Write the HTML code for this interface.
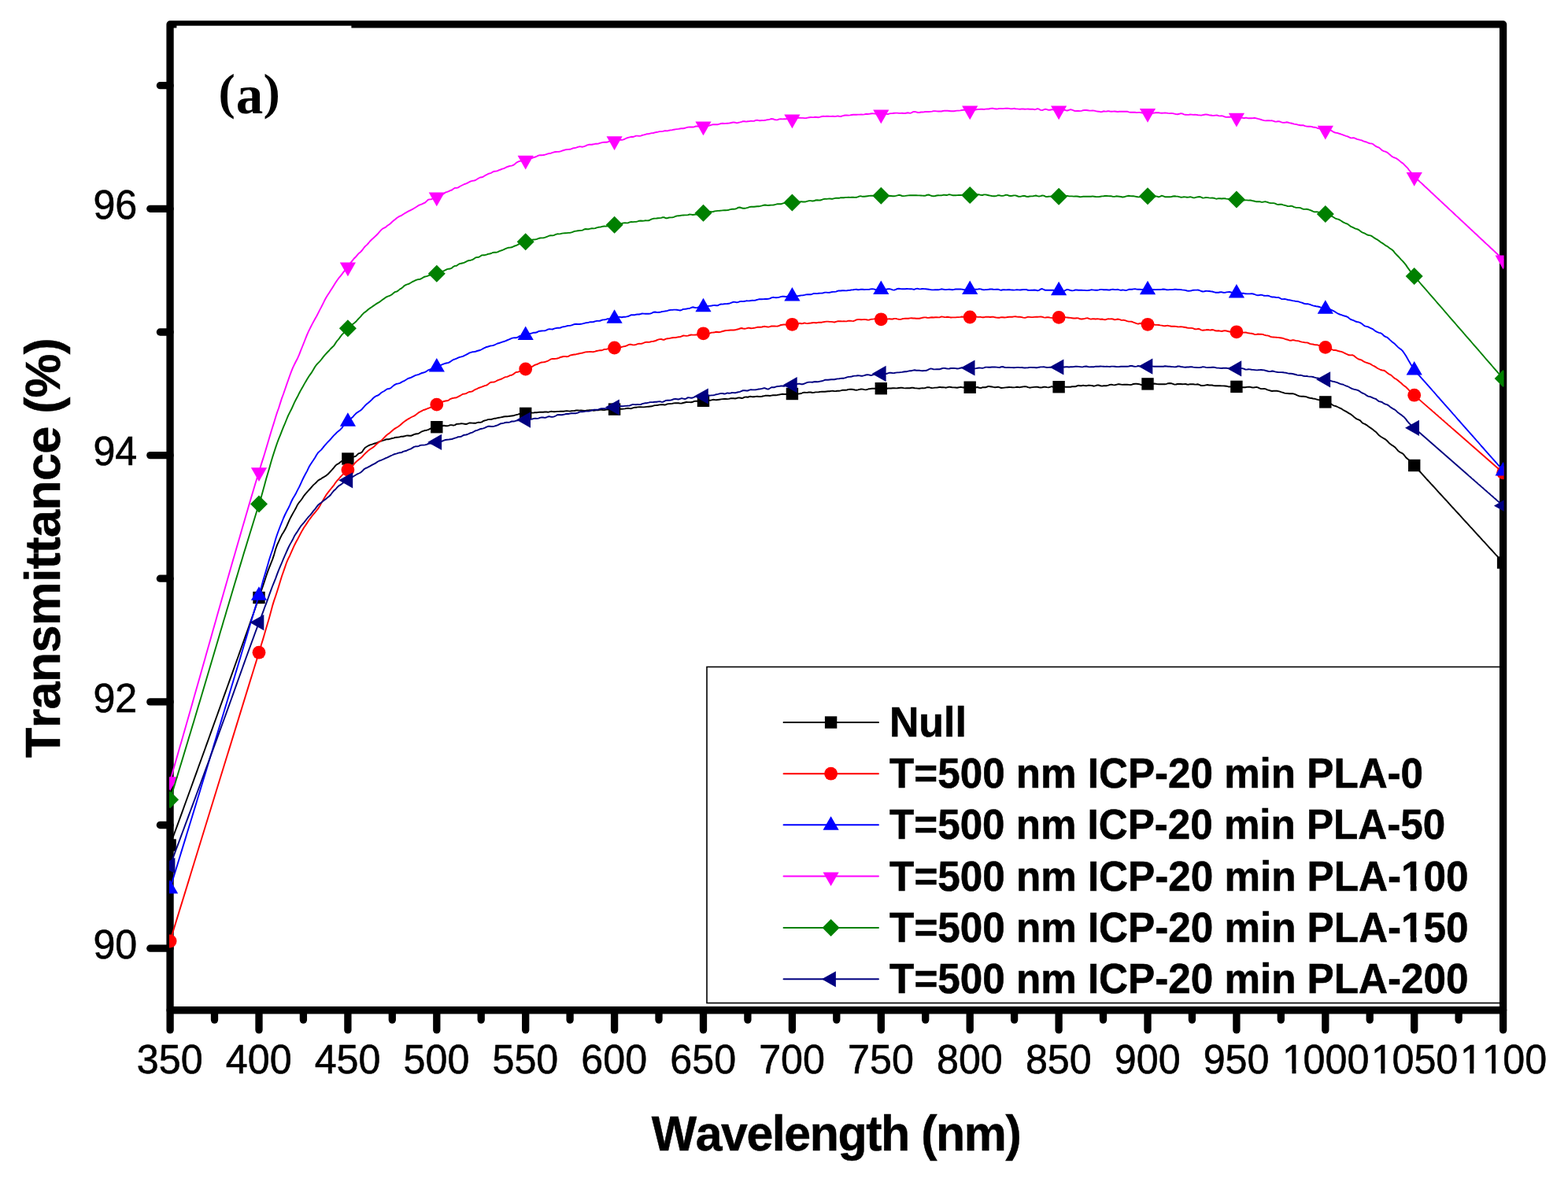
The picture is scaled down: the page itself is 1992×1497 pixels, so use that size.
<!DOCTYPE html>
<html lang="en">
<head>
<meta charset="utf-8">
<title>Transmittance vs Wavelength</title>
<style>
html,body{margin:0;padding:0;background:#ffffff;}
body{width:1992px;height:1497px;overflow:hidden;}
svg{display:block;}
text{font-family:"Liberation Sans",sans-serif;fill:#000;font-kerning:none;}
.tick{font-size:51px;stroke:#000;stroke-width:0.6px;}
.title{font-size:63px;font-weight:bold;stroke:#000;stroke-width:0.5px;}
.leg{font-size:54.5px;font-weight:bold;stroke:#000;stroke-width:0.6px;}
.panel{font-family:"Liberation Serif",serif;font-weight:bold;font-size:64px;}
</style>
</head>
<body>
<svg width="1992" height="1497" viewBox="0 0 1992 1497">
<rect x="0" y="0" width="1992" height="1497" fill="#ffffff"/>
<defs><clipPath id="plot"><rect x="214.9" y="30.95" width="1695.7" height="1252.8"/></clipPath></defs>

<rect x="898" y="847.5" width="1010" height="427.1" fill="#fff" stroke="#000" stroke-width="1.6"/>
<g stroke="#000" stroke-width="9.3" fill="none" stroke-linecap="round" stroke-linejoin="round">
<rect x="216.05" y="30.95" width="1693.55" height="1252.80" stroke-linejoin="round"/>
<line x1="216.1" y1="1283.75" x2="216.1" y2="1308.9"/>
<line x1="272.5" y1="1283.75" x2="272.5" y2="1296.1"/>
<line x1="329.0" y1="1283.75" x2="329.0" y2="1308.9"/>
<line x1="385.4" y1="1283.75" x2="385.4" y2="1296.1"/>
<line x1="441.9" y1="1283.75" x2="441.9" y2="1308.9"/>
<line x1="498.3" y1="1283.75" x2="498.3" y2="1296.1"/>
<line x1="554.8" y1="1283.75" x2="554.8" y2="1308.9"/>
<line x1="611.2" y1="1283.75" x2="611.2" y2="1296.1"/>
<line x1="667.7" y1="1283.75" x2="667.7" y2="1308.9"/>
<line x1="724.1" y1="1283.75" x2="724.1" y2="1296.1"/>
<line x1="780.6" y1="1283.75" x2="780.6" y2="1308.9"/>
<line x1="837.0" y1="1283.75" x2="837.0" y2="1296.1"/>
<line x1="893.5" y1="1283.75" x2="893.5" y2="1308.9"/>
<line x1="949.9" y1="1283.75" x2="949.9" y2="1296.1"/>
<line x1="1006.4" y1="1283.75" x2="1006.4" y2="1308.9"/>
<line x1="1062.8" y1="1283.75" x2="1062.8" y2="1296.1"/>
<line x1="1119.3" y1="1283.75" x2="1119.3" y2="1308.9"/>
<line x1="1175.7" y1="1283.75" x2="1175.7" y2="1296.1"/>
<line x1="1232.2" y1="1283.75" x2="1232.2" y2="1308.9"/>
<line x1="1288.6" y1="1283.75" x2="1288.6" y2="1296.1"/>
<line x1="1345.1" y1="1283.75" x2="1345.1" y2="1308.9"/>
<line x1="1401.5" y1="1283.75" x2="1401.5" y2="1296.1"/>
<line x1="1458.0" y1="1283.75" x2="1458.0" y2="1308.9"/>
<line x1="1514.4" y1="1283.75" x2="1514.4" y2="1296.1"/>
<line x1="1570.9" y1="1283.75" x2="1570.9" y2="1308.9"/>
<line x1="1627.3" y1="1283.75" x2="1627.3" y2="1296.1"/>
<line x1="1683.8" y1="1283.75" x2="1683.8" y2="1308.9"/>
<line x1="1740.2" y1="1283.75" x2="1740.2" y2="1296.1"/>
<line x1="1796.7" y1="1283.75" x2="1796.7" y2="1308.9"/>
<line x1="1853.1" y1="1283.75" x2="1853.1" y2="1296.1"/>
<line x1="1909.6" y1="1283.75" x2="1909.6" y2="1308.9"/>
<line x1="216.05" y1="1205.2" x2="190.8" y2="1205.2"/>
<line x1="216.05" y1="1048.5" x2="203.4" y2="1048.5"/>
<line x1="216.05" y1="891.9" x2="190.8" y2="891.9"/>
<line x1="216.05" y1="735.2" x2="203.4" y2="735.2"/>
<line x1="216.05" y1="578.6" x2="190.8" y2="578.6"/>
<line x1="216.05" y1="422.0" x2="203.4" y2="422.0"/>
<line x1="216.05" y1="265.3" x2="190.8" y2="265.3"/>
<line x1="216.05" y1="108.7" x2="203.4" y2="108.7"/>
</g>
<rect x="224.4" y="32.7" width="222.0" height="6" fill="#fff"/>
<g class="tick">
<text transform="translate(173.85,1364.4) scale(0.985,1)">350</text>
<text transform="translate(286.76,1364.4) scale(0.985,1)">400</text>
<text transform="translate(399.66,1364.4) scale(0.985,1)">450</text>
<text transform="translate(512.56,1364.4) scale(0.985,1)">500</text>
<text transform="translate(625.47,1364.4) scale(0.985,1)">550</text>
<text transform="translate(738.37,1364.4) scale(0.985,1)">600</text>
<text transform="translate(851.27,1364.4) scale(0.985,1)">650</text>
<text transform="translate(964.18,1364.4) scale(0.985,1)">700</text>
<text transform="translate(1077.08,1364.4) scale(0.985,1)">750</text>
<text transform="translate(1189.98,1364.4) scale(0.985,1)">800</text>
<text transform="translate(1302.89,1364.4) scale(0.985,1)">850</text>
<text transform="translate(1415.79,1364.4) scale(0.985,1)">900</text>
<text transform="translate(1528.69,1364.4) scale(0.985,1)">950</text>
<text transform="translate(1627.63,1364.4) scale(0.985,1)"><tspan dx="1.5">1</tspan><tspan dx="-1.5">0</tspan>00</text>
<rect x="1630.43" y="1358.68" width="10.99" height="7.22" fill="#fff" stroke="none"/>
<rect x="1646.49" y="1358.68" width="10.59" height="7.22" fill="#fff" stroke="none"/>
<text transform="translate(1740.54,1364.4) scale(0.985,1)"><tspan dx="1.5">1</tspan><tspan dx="-1.5">0</tspan>50</text>
<rect x="1743.33" y="1358.68" width="10.99" height="7.22" fill="#fff" stroke="none"/>
<rect x="1759.39" y="1358.68" width="10.59" height="7.22" fill="#fff" stroke="none"/>
<text transform="translate(1853.44,1364.4) scale(0.985,1)"><tspan dx="1.5">1</tspan>1<tspan dx="-1.5">0</tspan>0</text>
<rect x="1856.23" y="1358.68" width="10.99" height="7.22" fill="#fff" stroke="none"/>
<rect x="1872.30" y="1358.68" width="10.59" height="7.22" fill="#fff" stroke="none"/>
<rect x="1884.08" y="1358.68" width="10.99" height="7.22" fill="#fff" stroke="none"/>
<rect x="1900.14" y="1358.68" width="10.59" height="7.22" fill="#fff" stroke="none"/>
<text transform="translate(118.44,1217.90) scale(0.985,1)">90</text>
<text transform="translate(118.44,904.60) scale(0.985,1)">92</text>
<text transform="translate(118.44,591.30) scale(0.985,1)">94</text>
<text transform="translate(118.44,278.00) scale(0.985,1)">96</text>
</g>
<text class="title" style="letter-spacing:-1.455px" transform="translate(827.69,1462.4) scale(0.965,1)">Wavelength (nm)</text>
<text class="title" style="letter-spacing:-0.785px" transform="translate(76.2,962.91) rotate(-90)">Transmittance (%)</text>
<text class="panel"><tspan x="277.5" y="137.5">(</tspan><tspan x="299.8" y="144.3" style="font-size:69px">a</tspan><tspan x="334.6" y="137.5">)</tspan></text>
<g clip-path="url(#plot)">
<path d="M216.1,1074.0 L218.1,1068.5 L220.1,1063.0 L222.1,1057.5 L224.1,1052.1 L226.1,1046.6 L228.1,1041.1 L230.1,1035.6 L232.1,1030.1 L234.1,1024.5 L236.1,1019.0 L238.1,1013.5 L240.1,1008.0 L242.1,1002.5 L244.1,997.0 L246.1,991.4 L248.1,985.9 L250.1,980.4 L252.1,974.8 L254.1,969.3 L256.1,963.8 L258.1,958.2 L260.1,952.7 L262.1,947.1 L264.1,941.6 L266.1,936.0 L268.1,930.4 L270.1,924.9 L272.1,919.3 L274.1,913.7 L276.1,908.2 L278.1,902.6 L280.1,897.0 L282.1,891.5 L284.1,885.9 L286.1,880.4 L288.1,874.8 L290.1,869.2 L292.1,863.6 L294.1,858.1 L296.1,852.5 L298.1,846.9 L300.1,841.3 L302.1,835.7 L304.1,830.1 L306.1,824.5 L308.1,818.9 L310.1,813.2 L312.1,807.6 L314.1,802.0 L316.1,796.3 L318.1,790.6 L320.1,784.9 L322.1,779.3 L324.1,773.5 L326.1,767.8 L328.1,762.1 L329.0,759.5 L330.1,755.8 L332.1,750.1 L334.1,744.5 L336.1,738.5 L338.1,732.2 L340.1,726.4 L342.1,721.2 L344.1,716.1 L346.1,711.1 L348.1,705.1 L350.1,698.0 L352.1,692.4 L354.1,688.1 L356.1,683.6 L358.1,679.6 L360.1,676.4 L362.1,673.0 L364.1,669.0 L366.1,664.4 L368.1,659.9 L370.1,656.0 L372.1,652.4 L374.1,648.9 L376.1,645.2 L378.1,641.2 L380.1,638.3 L382.1,636.0 L384.1,633.2 L386.1,630.1 L388.1,627.6 L390.1,625.4 L392.1,623.2 L394.1,621.0 L396.1,618.7 L398.1,616.4 L400.1,614.6 L402.1,612.7 L404.1,610.6 L406.1,609.4 L408.1,608.3 L410.1,606.9 L412.1,605.8 L414.1,604.6 L416.1,603.1 L418.1,601.0 L420.1,598.8 L422.1,596.7 L424.1,594.3 L426.1,591.8 L428.1,590.1 L430.1,589.2 L432.1,587.6 L434.1,586.1 L436.1,585.2 L438.1,584.6 L440.1,584.0 L441.9,583.2 L442.1,582.8 L444.1,582.0 L446.1,581.3 L448.1,580.6 L450.1,580.4 L452.1,579.7 L454.1,577.6 L456.1,576.1 L458.1,575.6 L460.1,574.2 L462.1,571.1 L464.1,568.7 L466.1,567.5 L468.1,566.3 L470.1,565.3 L472.1,564.8 L474.1,564.2 L476.1,563.5 L478.1,562.9 L480.1,562.1 L482.1,561.2 L484.1,560.5 L486.1,559.9 L488.1,559.3 L490.1,558.5 L492.1,558.1 L494.1,558.2 L496.1,557.6 L498.1,557.0 L500.1,556.6 L502.1,556.0 L504.1,555.7 L506.1,555.6 L508.1,555.2 L510.1,554.7 L512.0,554.7 L514.0,554.3 L516.0,553.6 L518.0,553.5 L520.0,553.8 L522.0,553.8 L524.0,553.0 L526.0,552.2 L528.0,551.5 L530.0,551.3 L532.0,550.8 L534.0,549.5 L536.0,548.3 L538.0,547.6 L540.0,547.0 L542.0,546.7 L544.0,546.2 L546.0,545.1 L548.0,544.0 L550.0,543.5 L552.0,543.2 L554.0,542.9 L554.8,542.7 L556.0,542.2 L558.0,541.7 L560.0,541.7 L562.0,541.2 L564.0,540.8 L566.0,541.2 L568.0,541.3 L570.0,540.8 L572.0,540.1 L574.0,540.1 L576.0,540.7 L578.0,540.1 L580.0,538.9 L582.0,538.7 L584.0,538.6 L586.0,538.3 L588.0,538.4 L590.0,538.7 L592.0,539.0 L594.0,538.5 L596.0,537.5 L598.0,537.4 L600.0,537.6 L602.0,537.8 L604.0,537.8 L606.0,537.1 L608.0,536.6 L610.0,536.9 L612.0,536.4 L614.0,535.0 L616.0,534.3 L618.0,533.8 L620.0,533.1 L622.0,533.0 L624.0,533.0 L626.0,532.3 L628.0,531.8 L630.0,531.7 L632.0,531.1 L634.0,530.7 L636.0,530.4 L638.0,530.0 L640.0,529.5 L642.0,529.3 L644.0,529.2 L646.0,529.0 L648.0,528.7 L650.0,528.5 L652.0,528.3 L654.0,527.7 L656.0,527.1 L658.0,526.6 L660.0,526.0 L662.0,525.7 L664.0,525.6 L666.0,525.1 L667.7,525.0 L668.0,525.4 L670.0,525.3 L672.0,524.6 L674.0,524.2 L676.0,524.6 L678.0,524.5 L680.0,524.1 L682.0,524.2 L684.0,523.9 L686.0,523.6 L688.0,523.8 L690.0,523.8 L692.0,523.5 L694.0,523.4 L696.0,523.8 L698.0,523.3 L700.0,522.8 L702.0,523.1 L704.0,523.2 L706.0,523.1 L708.0,522.9 L710.0,522.9 L712.0,522.8 L714.0,522.7 L716.0,522.7 L718.0,522.4 L720.0,522.2 L722.0,522.4 L724.0,522.6 L726.0,522.2 L728.0,522.1 L730.0,522.0 L732.0,521.5 L734.0,521.4 L736.0,521.6 L738.0,521.5 L740.0,521.7 L742.0,522.0 L744.0,521.9 L746.0,521.4 L748.0,521.3 L750.0,521.1 L752.0,521.2 L754.0,521.9 L756.0,521.5 L758.0,521.0 L760.0,521.3 L762.0,520.9 L764.0,520.5 L766.0,521.0 L768.0,521.1 L770.0,520.6 L772.0,520.5 L774.0,520.4 L776.0,520.2 L778.0,520.3 L780.0,520.2 L780.6,519.7 L782.0,519.4 L784.0,519.4 L786.0,519.6 L788.0,519.8 L790.0,519.8 L792.0,519.6 L794.0,519.4 L796.0,519.0 L798.0,518.7 L800.0,519.1 L802.0,519.2 L804.0,518.4 L806.0,517.8 L808.0,517.7 L810.0,517.4 L812.0,517.3 L814.0,517.2 L816.0,517.4 L818.0,517.4 L820.0,517.1 L822.0,516.9 L824.0,516.7 L826.0,516.5 L828.0,516.3 L830.0,515.6 L832.0,515.1 L834.0,515.0 L836.0,514.8 L838.0,514.4 L840.0,514.2 L842.0,514.1 L844.0,514.5 L846.0,514.2 L848.0,513.4 L850.0,513.1 L852.0,513.1 L854.0,512.9 L856.0,512.4 L858.0,512.2 L860.0,512.2 L862.0,512.3 L864.0,512.6 L866.0,512.5 L868.0,512.0 L870.0,511.5 L872.0,511.0 L874.0,511.1 L876.0,511.1 L878.0,511.2 L880.0,510.8 L882.0,509.9 L884.0,509.6 L886.0,509.7 L888.0,509.6 L890.0,509.2 L892.0,509.1 L893.5,509.4 L894.0,509.5 L896.0,509.1 L898.0,508.5 L900.0,508.6 L902.0,508.8 L904.0,508.3 L906.0,507.8 L908.0,508.1 L910.0,508.3 L912.0,508.0 L914.0,507.7 L916.0,507.4 L918.0,507.1 L920.0,507.0 L922.0,506.9 L924.0,507.1 L926.0,506.9 L928.0,506.3 L930.0,506.1 L932.0,506.3 L934.0,506.5 L936.0,506.0 L938.0,505.4 L940.0,505.5 L942.0,506.0 L944.0,505.7 L946.0,504.6 L948.0,504.5 L950.0,504.8 L952.0,504.0 L954.0,503.8 L956.0,504.3 L958.0,504.3 L960.0,503.9 L962.0,503.8 L964.0,504.0 L966.0,504.0 L968.0,503.7 L970.0,503.3 L972.0,502.8 L974.0,502.6 L976.0,502.8 L978.0,503.0 L980.0,502.6 L982.0,502.2 L984.0,502.3 L986.0,502.3 L988.0,501.8 L990.0,501.5 L992.0,501.1 L994.0,500.8 L996.0,501.0 L998.0,501.0 L1000.0,500.8 L1002.0,500.7 L1004.0,500.2 L1006.0,500.0 L1006.4,500.6 L1008.0,500.7 L1010.0,500.1 L1012.0,500.2 L1014.0,500.5 L1016.0,500.3 L1018.0,500.0 L1020.0,499.0 L1022.0,498.6 L1024.0,498.9 L1026.0,498.8 L1028.0,498.4 L1030.0,498.5 L1032.0,499.0 L1034.0,498.9 L1036.0,498.4 L1038.0,498.4 L1040.0,498.2 L1042.0,497.9 L1044.0,497.7 L1046.0,497.7 L1048.0,497.7 L1050.0,497.5 L1052.0,497.3 L1054.0,497.2 L1056.0,496.9 L1058.0,496.8 L1060.0,497.1 L1062.0,497.0 L1064.0,496.8 L1066.0,496.8 L1068.0,496.4 L1070.0,495.8 L1072.0,495.7 L1074.0,495.8 L1076.0,495.5 L1078.0,494.9 L1080.0,494.7 L1082.0,494.7 L1084.0,495.0 L1086.0,495.5 L1088.0,495.7 L1090.0,495.4 L1092.0,494.9 L1094.0,494.5 L1096.0,494.6 L1098.0,495.1 L1100.0,495.4 L1102.0,494.9 L1104.0,494.2 L1106.0,494.0 L1108.0,493.7 L1110.0,493.6 L1112.0,493.7 L1114.0,494.2 L1116.0,494.5 L1118.0,494.3 L1119.3,494.5 L1120.0,494.6 L1122.0,494.3 L1124.0,494.3 L1126.0,494.0 L1128.0,493.5 L1130.0,493.5 L1132.0,493.5 L1134.0,493.3 L1136.0,493.3 L1138.0,493.4 L1140.0,493.3 L1142.0,493.0 L1144.0,492.8 L1146.0,492.7 L1148.0,493.1 L1150.0,493.4 L1152.0,493.3 L1154.0,493.3 L1156.0,493.2 L1158.0,492.8 L1160.0,492.8 L1162.0,493.2 L1164.0,493.4 L1166.0,493.6 L1168.0,493.8 L1170.0,493.4 L1172.0,493.3 L1174.0,493.4 L1176.0,492.8 L1178.0,492.2 L1180.0,492.2 L1182.0,492.7 L1184.0,493.1 L1186.0,492.9 L1188.0,492.6 L1190.0,492.6 L1192.0,492.3 L1194.0,491.9 L1196.0,492.2 L1198.0,492.3 L1200.0,492.4 L1202.0,492.7 L1204.0,492.1 L1206.0,491.6 L1208.0,492.0 L1210.0,492.4 L1212.0,492.4 L1214.0,492.5 L1216.0,492.7 L1218.0,492.3 L1220.0,491.8 L1222.0,492.1 L1224.0,492.5 L1226.0,491.9 L1228.0,491.7 L1230.0,492.2 L1232.0,492.5 L1232.2,492.6 L1234.0,492.3 L1236.0,492.1 L1238.0,492.4 L1240.0,492.2 L1242.0,492.0 L1244.0,492.8 L1246.0,493.1 L1248.0,492.3 L1250.0,492.2 L1252.0,492.3 L1254.0,491.5 L1256.0,490.9 L1258.0,491.2 L1260.0,491.5 L1262.0,491.9 L1264.0,492.2 L1266.0,492.0 L1268.0,491.7 L1270.0,492.3 L1272.0,493.0 L1274.0,492.9 L1276.0,492.6 L1278.0,492.4 L1280.0,492.2 L1282.0,492.0 L1284.0,492.1 L1286.0,492.3 L1288.0,492.4 L1290.0,492.1 L1292.0,491.7 L1294.0,492.0 L1296.0,492.2 L1298.0,491.7 L1300.0,491.4 L1302.0,491.3 L1304.0,491.4 L1306.0,492.2 L1308.0,492.7 L1310.0,492.4 L1312.0,492.1 L1314.0,491.9 L1316.0,491.8 L1318.0,491.8 L1320.0,492.2 L1322.0,492.5 L1324.0,492.2 L1326.0,491.8 L1328.0,491.7 L1330.0,492.1 L1332.0,492.4 L1334.0,491.8 L1336.0,491.2 L1338.0,491.9 L1340.0,492.6 L1342.0,492.4 L1344.0,492.1 L1345.1,491.5 L1346.0,490.7 L1348.0,490.5 L1350.0,490.9 L1352.0,491.4 L1354.0,491.8 L1356.0,491.8 L1358.0,491.7 L1360.0,491.7 L1362.0,491.3 L1364.0,491.2 L1366.0,491.3 L1368.0,490.5 L1370.0,489.8 L1372.0,490.2 L1374.0,490.3 L1376.0,489.7 L1378.0,490.1 L1380.0,490.3 L1382.0,489.8 L1384.0,489.7 L1386.0,489.9 L1388.0,490.3 L1390.0,490.7 L1392.0,490.2 L1394.0,489.4 L1396.0,489.5 L1398.0,490.3 L1400.0,490.6 L1402.0,490.2 L1404.0,490.1 L1406.0,490.2 L1408.0,489.6 L1410.0,488.9 L1412.0,488.6 L1414.0,489.1 L1416.0,489.4 L1418.0,488.8 L1420.0,488.3 L1422.0,488.3 L1424.0,488.6 L1426.0,488.9 L1428.0,488.7 L1430.0,488.8 L1432.0,488.8 L1434.0,488.9 L1436.0,489.1 L1438.0,488.7 L1440.0,488.0 L1442.0,487.7 L1444.0,487.7 L1446.0,488.0 L1448.0,488.4 L1450.0,489.2 L1452.0,489.0 L1454.0,488.1 L1456.0,488.0 L1458.0,488.1 L1458.0,487.5 L1460.0,487.6 L1462.0,488.0 L1464.0,487.7 L1466.0,487.5 L1468.0,487.8 L1470.0,488.1 L1472.0,488.2 L1474.0,488.3 L1476.0,488.3 L1478.0,488.3 L1480.0,488.3 L1482.0,487.8 L1484.0,487.2 L1486.0,487.0 L1488.0,487.2 L1490.0,487.9 L1492.0,488.6 L1494.0,488.5 L1496.0,488.0 L1498.0,487.9 L1500.0,488.0 L1502.0,488.2 L1504.0,488.1 L1506.0,488.0 L1508.0,488.5 L1510.0,488.7 L1512.0,488.2 L1514.0,488.1 L1516.0,488.2 L1518.0,488.6 L1520.0,488.5 L1522.0,488.3 L1524.0,489.2 L1526.0,490.0 L1528.0,490.0 L1530.0,489.9 L1532.0,489.4 L1534.0,489.0 L1536.0,489.5 L1538.0,489.5 L1540.0,489.5 L1542.0,490.1 L1544.0,490.2 L1546.0,490.2 L1548.0,490.3 L1550.0,490.3 L1552.0,490.4 L1554.0,490.4 L1556.0,490.5 L1558.0,490.7 L1560.0,491.2 L1562.0,491.5 L1564.0,491.4 L1566.0,491.0 L1568.0,491.1 L1570.0,491.1 L1570.9,490.4 L1572.0,490.8 L1574.0,491.8 L1576.0,492.2 L1578.0,492.2 L1580.0,492.1 L1582.0,492.2 L1584.0,491.9 L1586.0,491.6 L1588.0,491.7 L1590.0,492.3 L1592.0,492.6 L1594.0,492.3 L1596.0,491.8 L1598.0,492.3 L1600.0,493.4 L1602.0,494.1 L1604.0,494.1 L1606.0,493.9 L1608.0,494.4 L1610.0,495.3 L1612.0,495.8 L1614.0,496.5 L1616.0,497.0 L1618.0,496.7 L1620.0,496.6 L1622.0,496.8 L1624.0,497.1 L1626.0,497.7 L1628.0,498.3 L1630.0,498.8 L1632.0,499.6 L1634.0,499.9 L1636.0,500.0 L1638.0,500.2 L1640.0,500.1 L1642.0,500.2 L1644.0,500.7 L1646.0,501.4 L1648.0,502.4 L1650.0,503.2 L1652.0,503.6 L1654.0,503.7 L1656.0,503.8 L1658.0,504.0 L1660.0,504.4 L1662.0,505.3 L1664.0,505.7 L1666.0,506.0 L1668.0,506.5 L1670.0,506.7 L1672.0,507.3 L1674.0,507.9 L1676.0,508.3 L1678.0,509.0 L1680.0,510.1 L1682.0,511.0 L1683.8,511.4 L1684.0,511.0 L1686.0,511.1 L1688.0,511.7 L1690.0,512.6 L1692.0,514.0 L1694.0,515.3 L1696.0,515.9 L1698.0,516.5 L1700.0,517.5 L1702.0,518.5 L1704.0,519.3 L1706.0,520.7 L1708.0,521.9 L1710.0,522.9 L1712.0,524.1 L1714.0,525.4 L1716.0,526.4 L1718.0,527.9 L1720.0,529.7 L1722.0,531.4 L1724.0,532.7 L1726.0,533.3 L1728.0,534.4 L1730.0,536.7 L1732.0,538.2 L1734.0,538.9 L1736.0,540.1 L1738.0,541.6 L1740.0,543.0 L1742.0,544.4 L1744.0,545.8 L1746.0,547.4 L1748.0,548.9 L1750.0,551.1 L1752.0,553.3 L1754.0,554.7 L1756.0,556.0 L1758.0,557.2 L1760.0,558.3 L1762.0,560.0 L1764.0,562.2 L1766.0,564.1 L1768.0,565.6 L1770.0,566.7 L1772.0,568.2 L1774.0,570.4 L1776.0,572.7 L1778.0,574.4 L1780.0,575.3 L1782.0,576.4 L1784.0,578.5 L1786.0,581.2 L1788.0,583.0 L1790.0,584.6 L1792.0,586.3 L1794.0,587.6 L1796.0,589.9 L1796.7,591.5 L1798.0,593.0 L1800.0,595.2 L1802.0,597.4 L1804.0,599.5 L1806.0,601.7 L1808.0,603.9 L1810.0,606.1 L1812.0,608.3 L1814.0,610.5 L1816.0,612.7 L1818.0,614.9 L1820.0,617.0 L1822.0,619.2 L1824.0,621.4 L1826.0,623.6 L1828.0,625.8 L1830.0,628.0 L1832.0,630.2 L1834.0,632.4 L1836.0,634.5 L1838.0,636.7 L1840.0,638.9 L1842.0,641.1 L1844.0,643.3 L1846.0,645.5 L1848.0,647.7 L1850.0,649.9 L1852.0,652.0 L1854.0,654.2 L1856.0,656.4 L1858.0,658.6 L1860.0,660.8 L1862.0,663.0 L1864.0,665.2 L1866.0,667.4 L1868.0,669.6 L1870.0,671.7 L1872.0,673.9 L1874.0,676.1 L1876.0,678.3 L1878.0,680.5 L1880.0,682.7 L1882.0,684.9 L1884.0,687.1 L1886.0,689.2 L1888.0,691.4 L1890.0,693.6 L1892.0,695.8 L1894.0,698.0 L1896.0,700.2 L1898.0,702.4 L1900.0,704.6 L1902.0,706.7 L1904.0,708.9 L1906.0,711.1 L1908.0,713.3 L1909.6,715.0" fill="none" stroke="#000000" stroke-width="1.9" stroke-linejoin="round" stroke-linecap="round"/>
<rect x="208.4" y="1066.3" width="15.4" height="15.4" fill="#000000"/>
<rect x="321.3" y="751.8" width="15.4" height="15.4" fill="#000000"/>
<rect x="434.2" y="575.3" width="15.4" height="15.4" fill="#000000"/>
<rect x="547.1" y="535.0" width="15.4" height="15.4" fill="#000000"/>
<rect x="660.0" y="517.7" width="15.4" height="15.4" fill="#000000"/>
<rect x="772.9" y="512.4" width="15.4" height="15.4" fill="#000000"/>
<rect x="885.8" y="501.6" width="15.4" height="15.4" fill="#000000"/>
<rect x="998.7" y="492.8" width="15.4" height="15.4" fill="#000000"/>
<rect x="1111.6" y="486.0" width="15.4" height="15.4" fill="#000000"/>
<rect x="1224.5" y="484.5" width="15.4" height="15.4" fill="#000000"/>
<rect x="1337.4" y="484.0" width="15.4" height="15.4" fill="#000000"/>
<rect x="1450.3" y="480.2" width="15.4" height="15.4" fill="#000000"/>
<rect x="1563.2" y="483.7" width="15.4" height="15.4" fill="#000000"/>
<rect x="1676.1" y="503.2" width="15.4" height="15.4" fill="#000000"/>
<rect x="1789.0" y="583.8" width="15.4" height="15.4" fill="#000000"/>
<rect x="1901.9" y="707.3" width="15.4" height="15.4" fill="#000000"/>
<path d="M216.1,1196.0 L218.1,1189.5 L220.1,1183.0 L222.1,1176.5 L224.1,1169.9 L226.1,1163.4 L228.1,1156.9 L230.1,1150.4 L232.1,1143.9 L234.1,1137.4 L236.1,1130.9 L238.1,1124.4 L240.1,1117.9 L242.1,1111.3 L244.1,1104.8 L246.1,1098.3 L248.1,1091.8 L250.1,1085.3 L252.1,1078.8 L254.1,1072.3 L256.1,1065.8 L258.1,1059.3 L260.1,1052.8 L262.1,1046.3 L264.1,1039.8 L266.1,1033.3 L268.1,1026.8 L270.1,1020.3 L272.1,1013.8 L274.1,1007.3 L276.1,1000.8 L278.1,994.3 L280.1,987.8 L282.1,981.3 L284.1,974.8 L286.1,968.3 L288.1,961.8 L290.1,955.4 L292.1,948.9 L294.1,942.4 L296.1,935.9 L298.1,929.4 L300.1,922.9 L302.1,916.4 L304.1,909.9 L306.1,903.4 L308.1,896.9 L310.1,890.4 L312.1,883.9 L314.1,877.4 L316.1,870.9 L318.1,864.4 L320.1,858.0 L322.1,851.5 L324.1,845.0 L326.1,838.6 L328.1,832.1 L329.0,829.2 L330.1,825.5 L332.1,818.8 L334.1,812.4 L336.1,805.6 L338.1,798.6 L340.1,791.8 L342.1,784.9 L344.1,777.4 L346.1,769.9 L348.1,763.4 L350.1,757.6 L352.1,751.5 L354.1,745.1 L356.1,738.4 L358.1,732.0 L360.1,726.4 L362.1,720.6 L364.1,714.8 L366.1,710.1 L368.1,706.2 L370.1,701.7 L372.1,697.1 L374.1,692.7 L376.1,688.8 L378.1,685.3 L380.1,681.4 L382.1,677.5 L384.1,673.9 L386.1,670.5 L388.1,667.6 L390.1,664.6 L392.1,661.5 L394.1,658.9 L396.1,656.2 L398.1,653.7 L400.1,651.3 L402.1,648.9 L404.1,646.4 L406.1,643.2 L408.1,639.6 L410.1,636.1 L412.1,632.7 L414.1,629.4 L416.1,626.6 L418.1,624.1 L420.1,621.5 L422.1,619.1 L424.1,616.7 L426.1,613.6 L428.1,611.0 L430.1,608.9 L432.1,606.5 L434.1,604.4 L436.1,602.4 L438.1,600.2 L440.1,598.3 L441.9,597.0 L442.1,596.8 L444.1,594.9 L446.1,593.7 L448.1,591.8 L450.1,589.3 L452.1,587.2 L454.1,585.4 L456.1,583.8 L458.1,582.3 L460.1,580.4 L462.1,578.1 L464.1,576.1 L466.1,574.3 L468.1,572.4 L470.1,570.9 L472.1,569.7 L474.1,568.4 L476.1,566.7 L478.1,564.7 L480.1,562.9 L482.1,561.5 L484.1,560.2 L486.1,558.2 L488.1,556.1 L490.1,554.0 L492.1,552.3 L494.1,550.9 L496.1,549.3 L498.1,547.5 L500.1,545.8 L502.1,544.4 L504.1,543.2 L506.1,542.0 L508.1,540.5 L510.1,538.7 L512.0,537.0 L514.0,535.5 L516.0,534.1 L518.0,532.8 L520.0,531.7 L522.0,530.5 L524.0,529.5 L526.0,528.6 L528.0,527.4 L530.0,525.7 L532.0,524.2 L534.0,523.2 L536.0,522.1 L538.0,521.0 L540.0,520.5 L542.0,519.7 L544.0,518.8 L546.0,518.2 L548.0,517.4 L550.0,516.1 L552.0,515.0 L554.0,514.4 L554.8,514.1 L556.0,513.5 L558.0,513.1 L560.0,512.0 L562.0,510.7 L564.0,510.0 L566.0,509.5 L568.0,509.3 L570.0,508.6 L572.0,507.1 L574.0,506.3 L576.0,505.9 L578.0,505.5 L580.0,505.2 L582.0,504.2 L584.0,503.1 L586.0,502.0 L588.0,500.8 L590.0,500.5 L592.0,500.1 L594.0,499.0 L596.0,498.0 L598.0,497.8 L600.0,497.4 L602.0,496.0 L604.0,494.9 L606.0,494.1 L608.0,493.0 L610.0,492.3 L612.0,491.7 L614.0,490.9 L616.0,490.1 L618.0,489.6 L620.0,488.4 L622.0,486.6 L624.0,485.7 L626.0,485.6 L628.0,485.5 L630.0,484.5 L632.0,483.4 L634.0,482.6 L636.0,482.0 L638.0,481.2 L640.0,480.0 L642.0,479.1 L644.0,478.9 L646.0,478.1 L648.0,477.0 L650.0,476.7 L652.0,475.7 L654.0,474.0 L656.0,472.9 L658.0,472.7 L660.0,472.1 L662.0,470.7 L664.0,469.8 L666.0,469.6 L667.7,468.9 L668.0,469.1 L670.0,469.4 L672.0,468.7 L674.0,467.2 L676.0,465.9 L678.0,464.7 L680.0,463.6 L682.0,463.0 L684.0,462.2 L686.0,461.1 L688.0,460.5 L690.0,460.4 L692.0,460.0 L694.0,459.4 L696.0,458.7 L698.0,457.5 L700.0,456.4 L702.0,455.9 L704.0,456.0 L706.0,455.9 L708.0,455.5 L710.0,454.8 L712.0,454.0 L714.0,453.5 L716.0,453.0 L718.0,452.9 L720.0,453.3 L722.0,452.9 L724.0,451.7 L726.0,451.2 L728.0,450.8 L730.0,450.5 L732.0,450.2 L734.0,449.7 L736.0,449.3 L738.0,448.9 L740.0,448.5 L742.0,447.9 L744.0,447.4 L746.0,447.2 L748.0,447.1 L750.0,447.0 L752.0,447.1 L754.0,447.2 L756.0,446.7 L758.0,446.0 L760.0,445.6 L762.0,445.3 L764.0,445.3 L766.0,444.7 L768.0,443.9 L770.0,443.9 L772.0,443.4 L774.0,442.2 L776.0,441.9 L778.0,441.8 L780.0,441.1 L780.6,441.1 L782.0,441.3 L784.0,441.5 L786.0,441.7 L788.0,441.6 L790.0,440.9 L792.0,440.4 L794.0,440.0 L796.0,439.3 L798.0,438.3 L800.0,437.7 L802.0,437.8 L804.0,438.4 L806.0,438.4 L808.0,437.8 L810.0,437.1 L812.0,436.6 L814.0,436.9 L816.0,436.5 L818.0,435.6 L820.0,434.9 L822.0,434.7 L824.0,434.9 L826.0,434.5 L828.0,433.9 L830.0,433.7 L832.0,433.3 L834.0,432.5 L836.0,431.7 L838.0,431.1 L840.0,431.0 L842.0,431.7 L844.0,431.7 L846.0,430.6 L848.0,430.3 L850.0,430.1 L852.0,429.6 L854.0,429.2 L856.0,429.0 L858.0,429.0 L860.0,428.6 L862.0,428.3 L864.0,428.1 L866.0,427.3 L868.0,426.5 L870.0,426.6 L872.0,426.9 L874.0,426.6 L876.0,426.0 L878.0,425.5 L880.0,425.6 L882.0,425.6 L884.0,425.5 L886.0,425.4 L888.0,424.6 L890.0,423.5 L892.0,423.4 L893.5,423.9 L894.0,424.1 L896.0,423.9 L898.0,423.9 L900.0,423.9 L902.0,423.4 L904.0,422.6 L906.0,422.5 L908.0,422.2 L910.0,421.8 L912.0,422.0 L914.0,422.2 L916.0,421.6 L918.0,421.0 L920.0,420.5 L922.0,420.0 L924.0,419.9 L926.0,419.7 L928.0,419.5 L930.0,419.4 L932.0,419.5 L934.0,419.3 L936.0,418.7 L938.0,418.3 L940.0,417.5 L942.0,417.0 L944.0,417.5 L946.0,417.8 L948.0,417.4 L950.0,416.8 L952.0,416.8 L954.0,417.2 L956.0,417.1 L958.0,416.8 L960.0,416.3 L962.0,415.8 L964.0,415.6 L966.0,415.7 L968.0,415.5 L970.0,415.0 L972.0,414.8 L974.0,415.3 L976.0,415.6 L978.0,415.1 L980.0,414.5 L982.0,414.4 L984.0,414.5 L986.0,414.6 L988.0,414.5 L990.0,413.8 L992.0,413.0 L994.0,412.7 L996.0,412.4 L998.0,412.5 L1000.0,413.1 L1002.0,412.9 L1004.0,412.5 L1006.0,412.8 L1006.4,412.5 L1008.0,412.0 L1010.0,412.0 L1012.0,411.8 L1014.0,411.1 L1016.0,410.8 L1018.0,411.2 L1020.0,411.0 L1022.0,410.4 L1024.0,410.9 L1026.0,411.1 L1028.0,410.7 L1030.0,410.5 L1032.0,410.2 L1034.0,409.9 L1036.0,410.2 L1038.0,410.2 L1040.0,409.7 L1042.0,409.7 L1044.0,409.7 L1046.0,409.2 L1048.0,408.9 L1050.0,408.6 L1052.0,408.6 L1054.0,408.9 L1056.0,408.9 L1058.0,409.1 L1060.0,409.5 L1062.0,408.9 L1064.0,408.3 L1066.0,408.2 L1068.0,408.2 L1070.0,408.4 L1072.0,408.3 L1074.0,408.4 L1076.0,408.2 L1078.0,407.7 L1080.0,407.6 L1082.0,407.9 L1084.0,408.1 L1086.0,407.4 L1088.0,406.4 L1090.0,406.0 L1092.0,406.0 L1094.0,406.2 L1096.0,406.1 L1098.0,405.9 L1100.0,406.1 L1102.0,406.5 L1104.0,406.6 L1106.0,405.9 L1108.0,405.6 L1110.0,405.4 L1112.0,405.1 L1114.0,405.1 L1116.0,405.5 L1118.0,405.9 L1119.3,405.8 L1120.0,405.7 L1122.0,405.9 L1124.0,405.8 L1126.0,405.6 L1128.0,405.4 L1130.0,405.3 L1132.0,405.5 L1134.0,405.5 L1136.0,404.9 L1138.0,404.9 L1140.0,405.4 L1142.0,405.8 L1144.0,405.9 L1146.0,405.3 L1148.0,404.9 L1150.0,404.8 L1152.0,404.8 L1154.0,404.8 L1156.0,404.4 L1158.0,404.3 L1160.0,404.5 L1162.0,404.5 L1164.0,404.7 L1166.0,404.8 L1168.0,404.7 L1170.0,404.3 L1172.0,403.7 L1174.0,403.4 L1176.0,403.4 L1178.0,403.7 L1180.0,403.9 L1182.0,403.5 L1184.0,403.3 L1186.0,403.5 L1188.0,403.3 L1190.0,403.1 L1192.0,403.4 L1194.0,403.2 L1196.0,402.4 L1198.0,402.6 L1200.0,403.1 L1202.0,403.0 L1204.0,402.8 L1206.0,403.1 L1208.0,403.5 L1210.0,403.4 L1212.0,403.4 L1214.0,403.4 L1216.0,403.1 L1218.0,403.1 L1220.0,402.9 L1222.0,402.5 L1224.0,402.7 L1226.0,403.1 L1228.0,402.9 L1230.0,402.5 L1232.0,402.8 L1232.2,403.6 L1234.0,403.6 L1236.0,403.0 L1238.0,402.5 L1240.0,402.4 L1242.0,402.9 L1244.0,402.9 L1246.0,402.8 L1248.0,403.3 L1250.0,403.3 L1252.0,402.7 L1254.0,402.6 L1256.0,402.8 L1258.0,403.0 L1260.0,402.7 L1262.0,402.7 L1264.0,403.3 L1266.0,403.6 L1268.0,403.8 L1270.0,403.7 L1272.0,403.2 L1274.0,403.3 L1276.0,403.5 L1278.0,403.4 L1280.0,403.0 L1282.0,402.8 L1284.0,402.8 L1286.0,402.7 L1288.0,402.4 L1290.0,402.3 L1292.0,402.6 L1294.0,402.7 L1296.0,402.7 L1298.0,403.1 L1300.0,403.6 L1302.0,403.9 L1304.0,403.3 L1306.0,402.7 L1308.0,402.9 L1310.0,403.1 L1312.0,403.1 L1314.0,402.9 L1316.0,402.8 L1318.0,402.8 L1320.0,402.6 L1322.0,402.4 L1324.0,402.7 L1326.0,403.4 L1328.0,403.6 L1330.0,403.3 L1332.0,403.2 L1334.0,403.6 L1336.0,403.9 L1338.0,404.1 L1340.0,403.8 L1342.0,403.7 L1344.0,404.1 L1345.1,404.1 L1346.0,403.5 L1348.0,403.1 L1350.0,402.9 L1352.0,403.0 L1354.0,403.3 L1356.0,403.5 L1358.0,403.7 L1360.0,403.9 L1362.0,404.2 L1364.0,404.5 L1366.0,404.5 L1368.0,404.2 L1370.0,404.4 L1372.0,405.3 L1374.0,405.5 L1376.0,405.2 L1378.0,404.9 L1380.0,404.4 L1382.0,404.3 L1384.0,405.1 L1386.0,405.6 L1388.0,405.1 L1390.0,405.2 L1392.0,405.5 L1394.0,405.1 L1396.0,405.4 L1398.0,405.7 L1400.0,405.5 L1402.0,406.0 L1404.0,406.3 L1406.0,405.6 L1408.0,405.3 L1410.0,405.4 L1412.0,405.2 L1414.0,405.5 L1416.0,406.3 L1418.0,406.0 L1420.0,405.5 L1422.0,405.9 L1424.0,406.7 L1426.0,406.9 L1428.0,406.8 L1430.0,407.4 L1432.0,408.1 L1434.0,408.6 L1436.0,408.6 L1438.0,408.8 L1440.0,409.7 L1442.0,410.4 L1444.0,411.2 L1446.0,411.7 L1448.0,411.0 L1450.0,410.8 L1452.0,411.5 L1454.0,411.8 L1456.0,411.7 L1458.0,412.2 L1458.0,412.6 L1460.0,412.4 L1462.0,412.0 L1464.0,412.2 L1466.0,412.5 L1468.0,412.9 L1470.0,412.9 L1472.0,413.0 L1474.0,413.4 L1476.0,413.6 L1478.0,414.1 L1480.0,414.3 L1482.0,413.9 L1484.0,413.8 L1486.0,414.3 L1488.0,414.7 L1490.0,414.7 L1492.0,414.7 L1494.0,414.9 L1496.0,415.2 L1498.0,415.4 L1500.0,415.2 L1502.0,415.4 L1504.0,415.7 L1506.0,416.0 L1508.0,416.5 L1510.0,416.9 L1512.0,416.9 L1514.0,416.9 L1516.0,417.4 L1518.0,418.3 L1520.0,418.4 L1522.0,417.8 L1524.0,418.2 L1526.0,419.4 L1528.0,419.7 L1530.0,419.5 L1532.0,419.3 L1534.0,419.0 L1536.0,419.3 L1538.0,419.5 L1540.0,419.0 L1542.0,419.4 L1544.0,420.3 L1546.0,420.5 L1548.0,420.2 L1550.0,420.6 L1552.0,421.0 L1554.0,420.5 L1556.0,420.1 L1558.0,420.5 L1560.0,421.0 L1562.0,421.5 L1564.0,421.4 L1566.0,421.5 L1568.0,422.2 L1570.0,422.1 L1570.9,422.0 L1572.0,422.4 L1574.0,422.5 L1576.0,422.6 L1578.0,422.7 L1580.0,422.6 L1582.0,422.4 L1584.0,422.8 L1586.0,423.3 L1588.0,423.6 L1590.0,423.8 L1592.0,424.2 L1594.0,425.1 L1596.0,425.1 L1598.0,424.5 L1600.0,424.7 L1602.0,424.8 L1604.0,424.9 L1606.0,425.7 L1608.0,426.2 L1610.0,426.4 L1612.0,426.9 L1614.0,427.8 L1616.0,428.4 L1618.0,428.5 L1620.0,428.6 L1622.0,428.8 L1624.0,428.9 L1626.0,429.2 L1628.0,429.5 L1630.0,429.9 L1632.0,430.6 L1634.0,431.3 L1636.0,431.7 L1638.0,432.6 L1640.0,432.8 L1642.0,432.1 L1644.0,432.3 L1646.0,432.9 L1648.0,433.1 L1650.0,433.4 L1652.0,434.1 L1654.0,434.6 L1656.0,434.9 L1658.0,435.4 L1660.0,435.4 L1662.0,435.8 L1664.0,436.9 L1666.0,437.3 L1668.0,437.5 L1670.0,438.1 L1672.0,438.2 L1674.0,438.4 L1676.0,439.3 L1678.0,439.6 L1680.0,440.2 L1682.0,441.2 L1683.8,442.1 L1684.0,442.1 L1686.0,442.1 L1688.0,442.1 L1690.0,442.9 L1692.0,444.1 L1694.0,445.0 L1696.0,445.0 L1698.0,445.3 L1700.0,446.0 L1702.0,446.5 L1704.0,446.9 L1706.0,447.7 L1708.0,448.7 L1710.0,449.6 L1712.0,450.5 L1714.0,451.3 L1716.0,451.4 L1718.0,451.2 L1720.0,452.1 L1722.0,453.7 L1724.0,455.2 L1726.0,456.5 L1728.0,457.0 L1730.0,457.7 L1732.0,459.1 L1734.0,460.1 L1736.0,460.8 L1738.0,461.5 L1740.0,462.1 L1742.0,463.2 L1744.0,464.5 L1746.0,465.4 L1748.0,466.6 L1750.0,468.0 L1752.0,469.0 L1754.0,470.0 L1756.0,470.5 L1758.0,470.7 L1760.0,471.8 L1762.0,473.6 L1764.0,475.1 L1766.0,476.1 L1768.0,477.3 L1770.0,479.3 L1772.0,481.0 L1774.0,481.9 L1776.0,483.5 L1778.0,485.3 L1780.0,486.8 L1782.0,488.7 L1784.0,490.4 L1786.0,491.8 L1788.0,493.7 L1790.0,495.8 L1792.0,497.9 L1794.0,500.2 L1796.0,502.2 L1796.7,502.2 L1798.0,503.4 L1800.0,505.1 L1802.0,506.9 L1804.0,508.6 L1806.0,510.4 L1808.0,512.1 L1810.0,513.9 L1812.0,515.6 L1814.0,517.4 L1816.0,519.1 L1818.0,520.8 L1820.0,522.6 L1822.0,524.3 L1824.0,526.1 L1826.0,527.8 L1828.0,529.6 L1830.0,531.3 L1832.0,533.1 L1834.0,534.8 L1836.0,536.6 L1838.0,538.3 L1840.0,540.1 L1842.0,541.8 L1844.0,543.6 L1846.0,545.3 L1848.0,547.0 L1850.0,548.8 L1852.0,550.5 L1854.0,552.3 L1856.0,554.0 L1858.0,555.8 L1860.0,557.5 L1862.0,559.3 L1864.0,561.0 L1866.0,562.8 L1868.0,564.5 L1870.0,566.3 L1872.0,568.0 L1874.0,569.8 L1876.0,571.5 L1878.0,573.2 L1880.0,575.0 L1882.0,576.7 L1884.0,578.5 L1886.0,580.2 L1888.0,582.0 L1890.0,583.7 L1892.0,585.5 L1894.0,587.2 L1896.0,589.0 L1898.0,590.7 L1900.0,592.5 L1902.0,594.2 L1904.0,596.0 L1906.0,597.7 L1908.0,599.4 L1909.6,600.8" fill="none" stroke="#ff0000" stroke-width="1.9" stroke-linejoin="round" stroke-linecap="round"/>
<circle cx="216.1" cy="1196.0" r="8.4" fill="#ff0000"/>
<circle cx="329.0" cy="829.2" r="8.4" fill="#ff0000"/>
<circle cx="441.9" cy="597.1" r="8.4" fill="#ff0000"/>
<circle cx="554.8" cy="514.1" r="8.4" fill="#ff0000"/>
<circle cx="667.7" cy="469.0" r="8.4" fill="#ff0000"/>
<circle cx="780.6" cy="442.0" r="8.4" fill="#ff0000"/>
<circle cx="893.5" cy="423.8" r="8.4" fill="#ff0000"/>
<circle cx="1006.4" cy="412.3" r="8.4" fill="#ff0000"/>
<circle cx="1119.3" cy="405.8" r="8.4" fill="#ff0000"/>
<circle cx="1232.2" cy="403.0" r="8.4" fill="#ff0000"/>
<circle cx="1345.1" cy="403.4" r="8.4" fill="#ff0000"/>
<circle cx="1458.0" cy="412.3" r="8.4" fill="#ff0000"/>
<circle cx="1570.9" cy="421.8" r="8.4" fill="#ff0000"/>
<circle cx="1683.8" cy="441.4" r="8.4" fill="#ff0000"/>
<circle cx="1796.7" cy="502.2" r="8.4" fill="#ff0000"/>
<circle cx="1909.6" cy="600.8" r="8.4" fill="#ff0000"/>
<path d="M216.1,1129.0 L218.1,1122.5 L220.1,1116.0 L222.1,1109.5 L224.1,1103.0 L226.1,1096.5 L228.1,1090.0 L230.1,1083.4 L232.1,1076.9 L234.1,1070.4 L236.1,1063.9 L238.1,1057.3 L240.1,1050.8 L242.1,1044.2 L244.1,1037.7 L246.1,1031.1 L248.1,1024.6 L250.1,1018.0 L252.1,1011.5 L254.1,1004.9 L256.1,998.3 L258.1,991.8 L260.1,985.2 L262.1,978.6 L264.1,972.0 L266.1,965.4 L268.1,958.8 L270.1,952.2 L272.1,945.6 L274.1,939.0 L276.1,932.4 L278.1,925.8 L280.1,919.2 L282.1,912.6 L284.1,906.0 L286.1,899.4 L288.1,892.7 L290.1,886.1 L292.1,879.5 L294.1,872.8 L296.1,866.2 L298.1,859.5 L300.1,852.9 L302.1,846.2 L304.1,839.6 L306.1,832.9 L308.1,826.2 L310.1,819.5 L312.1,812.9 L314.1,806.2 L316.1,799.5 L318.1,792.8 L320.1,786.1 L322.1,779.4 L324.1,772.7 L326.1,766.0 L328.1,759.2 L329.0,756.2 L330.1,752.4 L332.1,745.7 L334.1,738.3 L336.1,731.5 L338.1,724.9 L340.1,718.1 L342.1,711.0 L344.1,704.8 L346.1,699.1 L348.1,692.5 L350.1,685.3 L352.1,679.3 L354.1,673.8 L356.1,668.5 L358.1,663.5 L360.1,658.5 L362.1,654.0 L364.1,650.0 L366.1,646.3 L368.1,642.1 L370.1,637.5 L372.1,633.5 L374.1,630.3 L376.1,626.7 L378.1,622.7 L380.1,618.9 L382.1,614.6 L384.1,610.2 L386.1,606.0 L388.1,602.3 L390.1,598.6 L392.1,594.3 L394.1,590.7 L396.1,587.7 L398.1,584.8 L400.1,581.7 L402.1,578.2 L404.1,575.2 L406.1,573.4 L408.1,571.6 L410.1,569.2 L412.1,566.6 L414.1,564.3 L416.1,562.2 L418.1,560.1 L420.1,558.0 L422.1,555.6 L424.1,553.4 L426.1,551.5 L428.1,549.4 L430.1,547.7 L432.1,546.2 L434.1,544.2 L436.1,541.3 L438.1,538.4 L440.1,536.3 L441.9,535.0 L442.1,534.7 L444.1,532.7 L446.1,531.6 L448.1,530.0 L450.1,527.6 L452.1,525.6 L454.1,524.1 L456.1,522.8 L458.1,521.5 L460.1,519.7 L462.1,517.3 L464.1,515.1 L466.1,513.3 L468.1,511.7 L470.1,510.0 L472.1,508.1 L474.1,506.0 L476.1,504.3 L478.1,503.2 L480.1,502.5 L482.1,501.1 L484.1,499.3 L486.1,498.0 L488.1,497.0 L490.1,495.5 L492.1,494.3 L494.1,494.0 L496.1,493.4 L498.1,491.6 L500.1,489.9 L502.1,488.6 L504.1,487.7 L506.1,487.4 L508.1,486.8 L510.1,485.7 L512.0,484.7 L514.0,483.8 L516.0,482.5 L518.0,481.2 L520.0,480.5 L522.0,479.8 L524.0,478.8 L526.0,477.8 L528.0,476.9 L530.0,476.4 L532.0,475.8 L534.0,474.8 L536.0,474.0 L538.0,473.5 L540.0,472.9 L542.0,471.7 L544.0,470.3 L546.0,469.6 L548.0,468.9 L550.0,468.2 L552.0,467.7 L554.0,467.1 L554.8,466.7 L556.0,466.1 L558.0,465.3 L560.0,464.0 L562.0,463.1 L564.0,462.3 L566.0,461.7 L568.0,461.3 L570.0,460.8 L572.0,459.7 L574.0,458.3 L576.0,457.0 L578.0,456.4 L580.0,455.7 L582.0,454.7 L584.0,453.9 L586.0,453.4 L588.0,452.8 L590.0,451.8 L592.0,450.9 L594.0,449.8 L596.0,448.7 L598.0,447.9 L600.0,447.3 L602.0,447.1 L604.0,446.8 L606.0,446.0 L608.0,445.5 L610.0,445.0 L612.0,444.0 L614.0,442.9 L616.0,441.8 L618.0,441.0 L620.0,440.5 L622.0,439.8 L624.0,439.4 L626.0,439.1 L628.0,438.5 L630.0,437.5 L632.0,436.5 L634.0,436.0 L636.0,435.3 L638.0,434.6 L640.0,434.0 L642.0,433.3 L644.0,432.5 L646.0,431.7 L648.0,430.8 L650.0,429.9 L652.0,429.4 L654.0,429.1 L656.0,429.2 L658.0,428.5 L660.0,427.1 L662.0,426.7 L664.0,426.2 L666.0,425.6 L667.7,425.4 L668.0,425.0 L670.0,424.2 L672.0,424.0 L674.0,423.9 L676.0,423.3 L678.0,422.7 L680.0,422.7 L682.0,422.3 L684.0,421.2 L686.0,420.7 L688.0,420.5 L690.0,420.4 L692.0,420.4 L694.0,419.6 L696.0,418.6 L698.0,418.1 L700.0,418.4 L702.0,418.5 L704.0,417.7 L706.0,417.1 L708.0,416.8 L710.0,416.7 L712.0,416.5 L714.0,415.7 L716.0,415.2 L718.0,414.9 L720.0,414.3 L722.0,413.9 L724.0,413.9 L726.0,413.4 L728.0,412.6 L730.0,412.0 L732.0,411.8 L734.0,412.0 L736.0,412.0 L738.0,411.7 L740.0,411.4 L742.0,410.8 L744.0,410.3 L746.0,410.1 L748.0,409.7 L750.0,409.2 L752.0,409.2 L754.0,409.0 L756.0,408.3 L758.0,407.8 L760.0,407.9 L762.0,407.8 L764.0,407.0 L766.0,406.4 L768.0,406.3 L770.0,405.9 L772.0,405.1 L774.0,405.2 L776.0,405.2 L778.0,404.8 L780.0,404.8 L780.6,404.6 L782.0,403.9 L784.0,403.4 L786.0,402.8 L788.0,402.9 L790.0,403.2 L792.0,402.8 L794.0,402.7 L796.0,402.4 L798.0,402.0 L800.0,401.2 L802.0,400.2 L804.0,400.3 L806.0,400.3 L808.0,399.7 L810.0,399.4 L812.0,399.5 L814.0,399.0 L816.0,398.4 L818.0,398.6 L820.0,398.8 L822.0,398.6 L824.0,398.7 L826.0,398.6 L828.0,397.8 L830.0,396.8 L832.0,396.5 L834.0,396.8 L836.0,397.0 L838.0,396.8 L840.0,396.3 L842.0,395.9 L844.0,395.6 L846.0,395.3 L848.0,394.8 L850.0,394.2 L852.0,393.9 L854.0,393.9 L856.0,393.6 L858.0,393.6 L860.0,393.8 L862.0,394.1 L864.0,394.5 L866.0,393.8 L868.0,392.9 L870.0,392.8 L872.0,392.5 L874.0,392.1 L876.0,392.0 L878.0,391.0 L880.0,390.3 L882.0,390.7 L884.0,391.1 L886.0,390.9 L888.0,390.2 L890.0,389.9 L892.0,390.0 L893.5,389.6 L894.0,389.8 L896.0,389.9 L898.0,389.4 L900.0,388.9 L902.0,388.8 L904.0,388.5 L906.0,388.1 L908.0,388.0 L910.0,388.3 L912.0,388.2 L914.0,387.2 L916.0,386.5 L918.0,386.6 L920.0,386.3 L922.0,386.1 L924.0,386.0 L926.0,385.8 L928.0,385.2 L930.0,384.4 L932.0,383.6 L934.0,383.9 L936.0,384.4 L938.0,383.8 L940.0,383.1 L942.0,382.9 L944.0,383.1 L946.0,382.8 L948.0,382.3 L950.0,382.4 L952.0,382.4 L954.0,382.0 L956.0,381.8 L958.0,381.9 L960.0,381.5 L962.0,380.8 L964.0,380.3 L966.0,380.3 L968.0,380.3 L970.0,380.1 L972.0,380.0 L974.0,380.0 L976.0,379.8 L978.0,379.4 L980.0,378.4 L982.0,377.8 L984.0,378.1 L986.0,378.3 L988.0,378.1 L990.0,377.7 L992.0,377.2 L994.0,376.7 L996.0,376.8 L998.0,377.0 L1000.0,376.7 L1002.0,375.9 L1004.0,375.5 L1006.0,375.9 L1006.4,376.5 L1008.0,376.0 L1010.0,375.6 L1012.0,376.0 L1014.0,376.1 L1016.0,375.7 L1018.0,375.4 L1020.0,375.2 L1022.0,374.9 L1024.0,374.4 L1026.0,374.1 L1028.0,374.2 L1030.0,374.3 L1032.0,373.7 L1034.0,372.9 L1036.0,373.0 L1038.0,373.1 L1040.0,372.7 L1042.0,372.6 L1044.0,372.6 L1046.0,372.2 L1048.0,371.6 L1050.0,371.6 L1052.0,371.9 L1054.0,371.8 L1056.0,371.2 L1058.0,370.9 L1060.0,370.9 L1062.0,370.6 L1064.0,369.8 L1066.0,369.4 L1068.0,369.5 L1070.0,369.2 L1072.0,369.2 L1074.0,369.4 L1076.0,369.2 L1078.0,368.9 L1080.0,368.7 L1082.0,368.4 L1084.0,368.3 L1086.0,367.9 L1088.0,367.8 L1090.0,368.2 L1092.0,368.0 L1094.0,367.6 L1096.0,367.8 L1098.0,368.0 L1100.0,367.9 L1102.0,367.9 L1104.0,367.9 L1106.0,367.4 L1108.0,367.2 L1110.0,367.4 L1112.0,368.0 L1114.0,368.2 L1116.0,368.0 L1118.0,367.6 L1119.3,367.5 L1120.0,367.6 L1122.0,367.6 L1124.0,367.7 L1126.0,367.7 L1128.0,367.3 L1130.0,367.2 L1132.0,367.7 L1134.0,368.4 L1136.0,368.6 L1138.0,367.8 L1140.0,367.0 L1142.0,366.7 L1144.0,367.1 L1146.0,367.3 L1148.0,367.2 L1150.0,367.2 L1152.0,367.0 L1154.0,367.1 L1156.0,367.2 L1158.0,367.2 L1160.0,367.7 L1162.0,367.7 L1164.0,366.9 L1166.0,366.8 L1168.0,367.4 L1170.0,367.3 L1172.0,367.0 L1174.0,367.1 L1176.0,367.3 L1178.0,367.5 L1180.0,367.8 L1182.0,368.1 L1184.0,368.4 L1186.0,368.4 L1188.0,368.1 L1190.0,368.2 L1192.0,368.3 L1194.0,367.8 L1196.0,367.3 L1198.0,367.6 L1200.0,368.0 L1202.0,368.1 L1204.0,367.9 L1206.0,367.8 L1208.0,368.0 L1210.0,368.2 L1212.0,367.9 L1214.0,367.5 L1216.0,367.5 L1218.0,367.5 L1220.0,367.5 L1222.0,367.6 L1224.0,368.0 L1226.0,368.2 L1228.0,367.8 L1230.0,367.5 L1232.0,367.7 L1232.2,367.6 L1234.0,367.2 L1236.0,367.2 L1238.0,367.6 L1240.0,367.8 L1242.0,367.6 L1244.0,367.3 L1246.0,367.4 L1248.0,368.0 L1250.0,368.4 L1252.0,368.1 L1254.0,368.0 L1256.0,367.8 L1258.0,367.5 L1260.0,367.5 L1262.0,367.8 L1264.0,367.9 L1266.0,367.7 L1268.0,367.7 L1270.0,368.4 L1272.0,368.7 L1274.0,368.3 L1276.0,368.2 L1278.0,368.4 L1280.0,368.2 L1282.0,368.0 L1284.0,368.4 L1286.0,368.5 L1288.0,368.6 L1290.0,368.4 L1292.0,368.1 L1294.0,368.4 L1296.0,368.5 L1298.0,368.2 L1300.0,368.0 L1302.0,367.9 L1304.0,368.0 L1306.0,368.8 L1308.0,368.9 L1310.0,368.8 L1312.0,368.8 L1314.0,368.5 L1316.0,368.7 L1318.0,369.4 L1320.0,368.9 L1322.0,367.5 L1324.0,367.0 L1326.0,368.0 L1328.0,368.8 L1330.0,368.7 L1332.0,368.7 L1334.0,368.8 L1336.0,368.6 L1338.0,368.8 L1340.0,369.2 L1342.0,369.2 L1344.0,368.9 L1345.1,368.7 L1346.0,368.8 L1348.0,369.0 L1350.0,369.6 L1352.0,369.8 L1354.0,368.6 L1356.0,367.8 L1358.0,368.3 L1360.0,369.0 L1362.0,369.4 L1364.0,369.1 L1366.0,368.5 L1368.0,368.5 L1370.0,368.8 L1372.0,368.7 L1374.0,368.8 L1376.0,368.9 L1378.0,368.9 L1380.0,369.1 L1382.0,369.1 L1384.0,368.8 L1386.0,368.3 L1388.0,368.4 L1390.0,368.6 L1392.0,368.8 L1394.0,368.8 L1396.0,368.4 L1398.0,367.9 L1400.0,367.9 L1402.0,368.2 L1404.0,368.3 L1406.0,368.3 L1408.0,368.5 L1410.0,368.5 L1412.0,367.9 L1414.0,367.7 L1416.0,368.1 L1418.0,368.1 L1420.0,367.8 L1422.0,368.4 L1424.0,368.9 L1426.0,368.5 L1428.0,368.6 L1430.0,369.1 L1432.0,368.6 L1434.0,367.8 L1436.0,367.7 L1438.0,367.8 L1440.0,367.4 L1442.0,367.1 L1444.0,367.6 L1446.0,367.8 L1448.0,367.7 L1450.0,367.9 L1452.0,368.0 L1454.0,367.7 L1456.0,367.6 L1458.0,368.1 L1458.0,368.3 L1460.0,368.2 L1462.0,368.3 L1464.0,368.1 L1466.0,368.0 L1468.0,368.1 L1470.0,368.0 L1472.0,368.0 L1474.0,368.0 L1476.0,367.8 L1478.0,367.5 L1480.0,367.7 L1482.0,368.3 L1484.0,368.4 L1486.0,368.1 L1488.0,368.1 L1490.0,368.1 L1492.0,367.7 L1494.0,367.7 L1496.0,368.0 L1498.0,368.0 L1500.0,368.1 L1502.0,368.4 L1504.0,368.6 L1506.0,368.9 L1508.0,369.5 L1510.0,369.7 L1512.0,369.6 L1514.0,369.2 L1516.0,368.7 L1518.0,368.6 L1520.0,368.6 L1522.0,368.5 L1524.0,369.1 L1526.0,370.0 L1528.0,370.5 L1530.0,370.2 L1532.0,369.8 L1534.0,369.9 L1536.0,370.0 L1538.0,370.3 L1540.0,370.5 L1542.0,371.1 L1544.0,371.7 L1546.0,371.8 L1548.0,371.7 L1550.0,371.3 L1552.0,371.1 L1554.0,371.8 L1556.0,371.9 L1558.0,371.4 L1560.0,371.1 L1562.0,371.0 L1564.0,371.5 L1566.0,372.1 L1568.0,371.9 L1570.0,371.6 L1570.9,371.6 L1572.0,372.2 L1574.0,372.8 L1576.0,372.8 L1578.0,372.6 L1580.0,372.7 L1582.0,373.3 L1584.0,373.4 L1586.0,373.4 L1588.0,373.4 L1590.0,373.1 L1592.0,373.5 L1594.0,374.2 L1596.0,374.8 L1598.0,375.3 L1600.0,375.0 L1602.0,374.6 L1604.0,375.1 L1606.0,375.8 L1608.0,375.9 L1610.0,375.6 L1612.0,376.0 L1614.0,376.9 L1616.0,377.5 L1618.0,377.4 L1620.0,377.7 L1622.0,378.1 L1624.0,377.9 L1626.0,378.8 L1628.0,380.0 L1630.0,380.1 L1632.0,380.0 L1634.0,380.4 L1636.0,381.0 L1638.0,381.2 L1640.0,381.6 L1642.0,382.1 L1644.0,382.4 L1646.0,382.9 L1648.0,383.0 L1650.0,383.4 L1652.0,384.1 L1654.0,384.7 L1656.0,385.5 L1658.0,386.1 L1660.0,386.2 L1662.0,386.3 L1664.0,386.8 L1666.0,387.6 L1668.0,388.3 L1670.0,388.8 L1672.0,389.2 L1674.0,389.5 L1676.0,390.0 L1678.0,390.7 L1680.0,391.0 L1682.0,391.8 L1683.8,392.5 L1684.0,392.1 L1686.0,392.4 L1688.0,392.8 L1690.0,393.4 L1692.0,394.2 L1694.0,395.1 L1696.0,396.2 L1698.0,397.5 L1700.0,398.7 L1702.0,399.5 L1704.0,400.1 L1706.0,400.8 L1708.0,401.5 L1710.0,402.0 L1712.0,402.8 L1714.0,404.5 L1716.0,406.0 L1718.0,406.6 L1720.0,407.4 L1722.0,408.5 L1724.0,409.0 L1726.0,409.4 L1728.0,410.2 L1730.0,411.3 L1732.0,412.9 L1734.0,414.4 L1736.0,414.9 L1738.0,415.3 L1740.0,416.4 L1742.0,417.3 L1744.0,418.2 L1746.0,419.7 L1748.0,421.2 L1750.0,422.2 L1752.0,422.9 L1754.0,423.3 L1756.0,424.5 L1758.0,426.6 L1760.0,427.9 L1762.0,428.6 L1764.0,430.2 L1766.0,432.1 L1768.0,433.9 L1770.0,435.5 L1772.0,437.1 L1774.0,439.1 L1776.0,441.1 L1778.0,442.8 L1780.0,444.1 L1782.0,446.1 L1784.0,449.0 L1786.0,452.0 L1788.0,455.5 L1790.0,459.1 L1792.0,462.5 L1794.0,465.7 L1796.0,469.2 L1796.7,470.0 L1798.0,471.5 L1800.0,473.8 L1802.0,476.1 L1804.0,478.3 L1806.0,480.6 L1808.0,482.9 L1810.0,485.1 L1812.0,487.4 L1814.0,489.7 L1816.0,491.9 L1818.0,494.2 L1820.0,496.5 L1822.0,498.7 L1824.0,501.0 L1826.0,503.3 L1828.0,505.5 L1830.0,507.8 L1832.0,510.1 L1834.0,512.3 L1836.0,514.6 L1838.0,516.9 L1840.0,519.2 L1842.0,521.4 L1844.0,523.7 L1846.0,526.0 L1848.0,528.2 L1850.0,530.5 L1852.0,532.8 L1854.0,535.0 L1856.0,537.3 L1858.0,539.6 L1860.0,541.8 L1862.0,544.1 L1864.0,546.4 L1866.0,548.6 L1868.0,550.9 L1870.0,553.2 L1872.0,555.4 L1874.0,557.7 L1876.0,560.0 L1878.0,562.2 L1880.0,564.5 L1882.0,566.8 L1884.0,569.0 L1886.0,571.3 L1888.0,573.6 L1890.0,575.8 L1892.0,578.1 L1894.0,580.4 L1896.0,582.6 L1898.0,584.9 L1900.0,587.2 L1902.0,589.4 L1904.0,591.7 L1906.0,594.0 L1908.0,596.2 L1909.6,598.0" fill="none" stroke="#0000ff" stroke-width="1.9" stroke-linejoin="round" stroke-linecap="round"/>
<polygon points="216.1,1118.0 226.2,1135.5 206.0,1135.5" fill="#0000ff"/>
<polygon points="329.0,745.2 339.1,762.7 318.9,762.7" fill="#0000ff"/>
<polygon points="441.9,524.2 452.0,541.7 431.8,541.7" fill="#0000ff"/>
<polygon points="554.8,455.1 564.9,472.6 544.7,472.6" fill="#0000ff"/>
<polygon points="667.7,414.5 677.8,432.0 657.6,432.0" fill="#0000ff"/>
<polygon points="780.6,393.2 790.7,410.7 770.5,410.7" fill="#0000ff"/>
<polygon points="893.5,378.7 903.6,396.2 883.4,396.2" fill="#0000ff"/>
<polygon points="1006.4,364.9 1016.5,382.4 996.3,382.4" fill="#0000ff"/>
<polygon points="1119.3,356.4 1129.4,373.9 1109.2,373.9" fill="#0000ff"/>
<polygon points="1232.2,356.6 1242.3,374.1 1222.1,374.1" fill="#0000ff"/>
<polygon points="1345.1,357.8 1355.2,375.3 1335.0,375.3" fill="#0000ff"/>
<polygon points="1458.0,356.8 1468.1,374.3 1447.9,374.3" fill="#0000ff"/>
<polygon points="1570.9,361.1 1581.0,378.6 1560.8,378.6" fill="#0000ff"/>
<polygon points="1683.8,381.2 1693.9,398.7 1673.7,398.7" fill="#0000ff"/>
<polygon points="1796.7,459.0 1806.8,476.5 1786.6,476.5" fill="#0000ff"/>
<polygon points="1909.6,587.0 1919.7,604.5 1899.5,604.5" fill="#0000ff"/>
<path d="M216.1,992.3 L218.1,985.4 L220.1,978.4 L222.1,971.5 L224.1,964.5 L226.1,957.6 L228.1,950.6 L230.1,943.7 L232.1,936.7 L234.1,929.7 L236.1,922.7 L238.1,915.7 L240.1,908.7 L242.1,901.7 L244.1,894.7 L246.1,887.6 L248.1,880.6 L250.1,873.5 L252.1,866.5 L254.1,859.4 L256.1,852.3 L258.1,845.3 L260.1,838.2 L262.1,831.1 L264.1,824.0 L266.1,816.9 L268.1,809.9 L270.1,802.8 L272.1,795.7 L274.1,788.7 L276.1,781.6 L278.1,774.6 L280.1,767.5 L282.1,760.5 L284.1,753.5 L286.1,746.5 L288.1,739.5 L290.1,732.5 L292.1,725.5 L294.1,718.5 L296.1,711.6 L298.1,704.7 L300.1,697.8 L302.1,690.8 L304.1,683.9 L306.1,677.0 L308.1,670.1 L310.1,663.2 L312.1,656.3 L314.1,649.4 L316.1,642.6 L318.1,635.8 L320.1,629.0 L322.1,622.3 L324.1,615.6 L326.1,608.9 L328.1,602.4 L329.0,599.4 L330.1,596.0 L332.1,589.4 L334.1,583.1 L336.1,576.7 L338.1,570.0 L340.1,563.2 L342.1,556.4 L344.1,549.8 L346.1,543.3 L348.1,537.0 L350.1,530.3 L352.1,524.0 L354.1,518.5 L356.1,512.1 L358.1,505.8 L360.1,500.5 L362.1,494.7 L364.1,488.9 L366.1,483.2 L368.1,477.5 L370.1,472.1 L372.1,467.1 L374.1,463.0 L376.1,459.0 L378.1,455.2 L380.1,450.7 L382.1,445.4 L384.1,440.5 L386.1,435.5 L388.1,430.4 L390.1,425.4 L392.1,420.8 L394.1,416.8 L396.1,412.9 L398.1,409.1 L400.1,405.5 L402.1,402.0 L404.1,398.1 L406.1,394.1 L408.1,390.4 L410.1,386.4 L412.1,382.3 L414.1,378.5 L416.1,375.3 L418.1,372.3 L420.1,369.1 L422.1,365.9 L424.1,362.7 L426.1,359.5 L428.1,356.5 L430.1,353.7 L432.1,351.4 L434.1,348.8 L436.1,346.1 L438.1,343.6 L440.1,340.9 L441.9,338.7 L442.1,338.7 L444.1,335.9 L446.1,333.1 L448.1,330.6 L450.1,328.2 L452.1,326.3 L454.1,323.9 L456.1,321.7 L458.1,320.2 L460.1,318.0 L462.1,315.2 L464.1,312.9 L466.1,311.1 L468.1,309.0 L470.1,306.5 L472.1,304.5 L474.1,302.8 L476.1,300.9 L478.1,299.0 L480.1,297.0 L482.1,294.6 L484.1,292.4 L486.1,290.6 L488.1,289.7 L490.1,288.6 L492.1,286.8 L494.1,285.5 L496.1,284.0 L498.1,282.0 L500.1,280.3 L502.1,278.7 L504.1,277.0 L506.1,275.7 L508.1,274.7 L510.1,273.8 L512.0,272.5 L514.0,271.2 L516.0,270.1 L518.0,268.9 L520.0,267.8 L522.0,267.0 L524.0,265.9 L526.0,264.7 L528.0,263.5 L530.0,262.2 L532.0,260.9 L534.0,260.1 L536.0,259.3 L538.0,258.3 L540.0,257.5 L542.0,255.6 L544.0,253.7 L546.0,253.4 L548.0,253.3 L550.0,252.1 L552.0,250.6 L554.0,249.9 L554.8,250.2 L556.0,249.8 L558.0,248.7 L560.0,247.8 L562.0,247.2 L564.0,245.9 L566.0,244.5 L568.0,243.9 L570.0,243.2 L572.0,242.2 L574.0,241.5 L576.0,240.0 L578.0,238.8 L580.0,238.9 L582.0,238.4 L584.0,237.0 L586.0,236.0 L588.0,235.0 L590.0,234.0 L592.0,233.3 L594.0,232.5 L596.0,231.4 L598.0,230.3 L600.0,229.8 L602.0,229.6 L604.0,229.0 L606.0,227.8 L608.0,226.5 L610.0,225.5 L612.0,225.3 L614.0,224.5 L616.0,223.2 L618.0,222.2 L620.0,221.0 L622.0,220.4 L624.0,219.8 L626.0,218.5 L628.0,217.7 L630.0,217.6 L632.0,217.1 L634.0,216.2 L636.0,215.5 L638.0,214.7 L640.0,214.1 L642.0,213.2 L644.0,212.2 L646.0,211.5 L648.0,210.9 L650.0,210.6 L652.0,209.9 L654.0,208.4 L656.0,206.8 L658.0,205.6 L660.0,204.9 L662.0,204.5 L664.0,203.9 L666.0,203.3 L667.7,202.9 L668.0,202.6 L670.0,201.5 L672.0,201.1 L674.0,201.3 L676.0,200.8 L678.0,200.0 L680.0,199.5 L682.0,198.7 L684.0,197.7 L686.0,197.2 L688.0,197.2 L690.0,197.0 L692.0,196.7 L694.0,196.1 L696.0,195.4 L698.0,195.0 L700.0,194.7 L702.0,193.9 L704.0,193.3 L706.0,193.0 L708.0,192.9 L710.0,192.8 L712.0,192.4 L714.0,191.7 L716.0,191.0 L718.0,190.4 L720.0,190.0 L722.0,189.9 L724.0,189.8 L726.0,189.1 L728.0,188.3 L730.0,188.0 L732.0,187.6 L734.0,186.9 L736.0,186.3 L738.0,186.4 L740.0,186.7 L742.0,186.2 L744.0,185.3 L746.0,184.3 L748.0,183.8 L750.0,183.7 L752.0,183.7 L754.0,183.3 L756.0,182.8 L758.0,182.8 L760.0,182.6 L762.0,181.9 L764.0,181.4 L766.0,180.9 L768.0,180.7 L770.0,180.8 L772.0,180.5 L774.0,179.6 L776.0,179.3 L778.0,179.0 L780.0,178.2 L780.6,178.0 L782.0,177.6 L784.0,177.4 L786.0,177.5 L788.0,177.7 L790.0,177.8 L792.0,177.3 L794.0,176.5 L796.0,175.5 L798.0,174.9 L800.0,174.3 L802.0,173.8 L804.0,174.0 L806.0,173.4 L808.0,172.6 L810.0,172.6 L812.0,172.9 L814.0,172.6 L816.0,171.8 L818.0,171.4 L820.0,170.8 L822.0,170.2 L824.0,170.1 L826.0,169.6 L828.0,169.1 L830.0,169.0 L832.0,168.4 L834.0,168.0 L836.0,167.6 L838.0,167.1 L840.0,167.1 L842.0,166.9 L844.0,166.3 L846.0,166.3 L848.0,166.4 L850.0,165.7 L852.0,165.4 L854.0,165.2 L856.0,164.7 L858.0,164.4 L860.0,164.1 L862.0,163.9 L864.0,163.5 L866.0,163.1 L868.0,163.2 L870.0,162.8 L872.0,162.1 L874.0,161.6 L876.0,161.5 L878.0,161.5 L880.0,161.5 L882.0,161.2 L884.0,160.5 L886.0,160.4 L888.0,160.7 L890.0,160.4 L892.0,160.3 L893.5,160.4 L894.0,160.1 L896.0,159.6 L898.0,159.6 L900.0,159.8 L902.0,159.4 L904.0,158.6 L906.0,158.3 L908.0,158.1 L910.0,158.3 L912.0,158.2 L914.0,157.6 L916.0,157.0 L918.0,156.7 L920.0,157.0 L922.0,156.9 L924.0,156.7 L926.0,156.6 L928.0,156.2 L930.0,155.8 L932.0,155.4 L934.0,155.7 L936.0,156.3 L938.0,155.8 L940.0,155.4 L942.0,154.9 L944.0,154.1 L946.0,154.3 L948.0,154.6 L950.0,154.3 L952.0,154.1 L954.0,153.6 L956.0,153.9 L958.0,153.9 L960.0,152.9 L962.0,152.7 L964.0,153.2 L966.0,153.2 L968.0,153.0 L970.0,153.1 L972.0,152.8 L974.0,152.3 L976.0,152.1 L978.0,151.6 L980.0,151.0 L982.0,151.2 L984.0,152.0 L986.0,152.4 L988.0,152.2 L990.0,151.4 L992.0,151.2 L994.0,151.4 L996.0,151.3 L998.0,151.3 L1000.0,151.0 L1002.0,150.3 L1004.0,149.6 L1006.0,150.2 L1006.4,151.2 L1008.0,151.3 L1010.0,150.9 L1012.0,150.2 L1014.0,149.8 L1016.0,149.7 L1018.0,149.9 L1020.0,149.9 L1022.0,150.1 L1024.0,150.1 L1026.0,149.6 L1028.0,149.2 L1030.0,149.0 L1032.0,149.1 L1034.0,149.0 L1036.0,148.8 L1038.0,149.0 L1040.0,149.2 L1042.0,148.7 L1044.0,148.0 L1046.0,147.8 L1048.0,147.9 L1050.0,147.7 L1052.0,147.6 L1054.0,147.9 L1056.0,147.9 L1058.0,147.6 L1060.0,148.0 L1062.0,147.9 L1064.0,147.4 L1066.0,147.8 L1068.0,148.0 L1070.0,147.3 L1072.0,146.8 L1074.0,146.5 L1076.0,146.5 L1078.0,146.6 L1080.0,146.4 L1082.0,146.0 L1084.0,145.8 L1086.0,145.8 L1088.0,145.7 L1090.0,145.6 L1092.0,145.6 L1094.0,145.4 L1096.0,145.6 L1098.0,145.4 L1100.0,144.8 L1102.0,145.0 L1104.0,144.9 L1106.0,144.5 L1108.0,144.3 L1110.0,144.4 L1112.0,144.6 L1114.0,144.6 L1116.0,144.5 L1118.0,144.6 L1119.3,144.6 L1120.0,144.8 L1122.0,144.7 L1124.0,144.3 L1126.0,144.8 L1128.0,145.1 L1130.0,144.4 L1132.0,144.1 L1134.0,144.0 L1136.0,143.8 L1138.0,143.6 L1140.0,143.6 L1142.0,143.9 L1144.0,143.9 L1146.0,143.8 L1148.0,144.0 L1150.0,144.0 L1152.0,143.5 L1154.0,143.3 L1156.0,143.8 L1158.0,143.3 L1160.0,142.1 L1162.0,141.9 L1164.0,142.4 L1166.0,143.0 L1168.0,143.0 L1170.0,142.5 L1172.0,142.5 L1174.0,142.3 L1176.0,141.9 L1178.0,142.0 L1180.0,142.0 L1182.0,141.9 L1184.0,141.6 L1186.0,141.1 L1188.0,141.1 L1190.0,141.4 L1192.0,141.5 L1194.0,141.5 L1196.0,141.5 L1198.0,141.0 L1200.0,140.6 L1202.0,140.7 L1204.0,140.8 L1206.0,141.0 L1208.0,141.2 L1210.0,141.2 L1212.0,141.2 L1214.0,140.9 L1216.0,140.6 L1218.0,140.6 L1220.0,140.4 L1222.0,140.0 L1224.0,139.8 L1226.0,139.8 L1228.0,139.9 L1230.0,140.2 L1232.0,140.8 L1232.2,141.0 L1234.0,140.4 L1236.0,139.8 L1238.0,139.7 L1240.0,139.4 L1242.0,139.0 L1244.0,138.9 L1246.0,138.7 L1248.0,138.8 L1250.0,139.0 L1252.0,138.6 L1254.0,138.4 L1256.0,138.5 L1258.0,138.0 L1260.0,137.6 L1262.0,137.8 L1264.0,138.3 L1266.0,138.5 L1268.0,138.3 L1270.0,137.9 L1272.0,138.0 L1274.0,138.1 L1276.0,137.9 L1278.0,137.7 L1280.0,137.7 L1282.0,137.9 L1284.0,138.4 L1286.0,138.3 L1288.0,137.8 L1290.0,138.2 L1292.0,138.4 L1294.0,138.6 L1296.0,138.7 L1298.0,138.4 L1300.0,138.5 L1302.0,138.8 L1304.0,138.6 L1306.0,138.5 L1308.0,138.8 L1310.0,138.7 L1312.0,138.6 L1314.0,139.2 L1316.0,138.9 L1318.0,138.1 L1320.0,138.7 L1322.0,139.9 L1324.0,140.1 L1326.0,139.3 L1328.0,138.7 L1330.0,139.2 L1332.0,139.8 L1334.0,139.7 L1336.0,139.3 L1338.0,139.4 L1340.0,139.7 L1342.0,139.8 L1344.0,139.9 L1345.1,140.2 L1346.0,140.4 L1348.0,140.2 L1350.0,139.7 L1352.0,139.5 L1354.0,140.2 L1356.0,140.5 L1358.0,139.8 L1360.0,139.2 L1362.0,139.6 L1364.0,140.5 L1366.0,141.1 L1368.0,141.0 L1370.0,140.9 L1372.0,141.1 L1374.0,140.9 L1376.0,140.2 L1378.0,139.9 L1380.0,140.0 L1382.0,140.3 L1384.0,140.6 L1386.0,140.6 L1388.0,140.5 L1390.0,140.6 L1392.0,141.1 L1394.0,141.5 L1396.0,141.7 L1398.0,142.2 L1400.0,142.0 L1402.0,141.3 L1404.0,141.6 L1406.0,141.5 L1408.0,141.1 L1410.0,141.5 L1412.0,141.7 L1414.0,141.6 L1416.0,141.5 L1418.0,141.7 L1420.0,142.0 L1422.0,141.8 L1424.0,141.7 L1426.0,141.7 L1428.0,141.8 L1430.0,141.7 L1432.0,141.7 L1434.0,142.4 L1436.0,142.8 L1438.0,142.8 L1440.0,142.7 L1442.0,142.7 L1444.0,143.1 L1446.0,142.9 L1448.0,142.9 L1450.0,143.3 L1452.0,143.5 L1454.0,143.0 L1456.0,142.7 L1458.0,142.7 L1458.0,142.4 L1460.0,142.7 L1462.0,143.4 L1464.0,143.9 L1466.0,143.6 L1468.0,143.3 L1470.0,143.2 L1472.0,143.2 L1474.0,143.6 L1476.0,143.8 L1478.0,143.6 L1480.0,143.5 L1482.0,143.6 L1484.0,143.9 L1486.0,144.1 L1488.0,143.9 L1490.0,144.1 L1492.0,144.6 L1494.0,145.1 L1496.0,145.2 L1498.0,144.8 L1500.0,144.2 L1502.0,144.4 L1504.0,145.3 L1506.0,145.8 L1508.0,145.9 L1510.0,145.9 L1512.0,145.5 L1514.0,145.6 L1516.0,145.9 L1518.0,145.7 L1520.0,145.9 L1522.0,146.2 L1524.0,146.4 L1526.0,146.6 L1528.0,146.1 L1530.0,145.7 L1532.0,145.4 L1534.0,145.7 L1536.0,146.2 L1538.0,146.5 L1540.0,146.8 L1542.0,146.9 L1544.0,146.6 L1546.0,146.4 L1548.0,147.1 L1550.0,147.4 L1552.0,147.1 L1554.0,147.6 L1556.0,148.5 L1558.0,148.9 L1560.0,148.8 L1562.0,148.7 L1564.0,148.5 L1566.0,148.5 L1568.0,148.8 L1570.0,148.8 L1570.9,148.7 L1572.0,148.9 L1574.0,149.3 L1576.0,149.4 L1578.0,149.7 L1580.0,150.2 L1582.0,149.8 L1584.0,149.8 L1586.0,150.3 L1588.0,150.1 L1590.0,150.2 L1592.0,150.1 L1594.0,149.8 L1596.0,150.3 L1598.0,150.9 L1600.0,151.4 L1602.0,152.0 L1604.0,152.6 L1606.0,153.1 L1608.0,153.4 L1610.0,153.3 L1612.0,153.3 L1614.0,153.4 L1616.0,153.3 L1618.0,153.8 L1620.0,154.6 L1622.0,154.5 L1624.0,154.1 L1626.0,154.5 L1628.0,155.4 L1630.0,155.9 L1632.0,155.8 L1634.0,155.3 L1636.0,155.5 L1638.0,156.1 L1640.0,156.5 L1642.0,157.0 L1644.0,157.6 L1646.0,157.9 L1648.0,158.3 L1650.0,158.8 L1652.0,159.2 L1654.0,159.1 L1656.0,159.3 L1658.0,160.1 L1660.0,160.6 L1662.0,160.8 L1664.0,160.8 L1666.0,160.9 L1668.0,161.5 L1670.0,161.7 L1672.0,162.1 L1674.0,163.0 L1676.0,163.4 L1678.0,163.8 L1680.0,164.7 L1682.0,164.9 L1683.8,164.3 L1684.0,164.4 L1686.0,165.3 L1688.0,165.1 L1690.0,165.1 L1692.0,166.4 L1694.0,167.7 L1696.0,168.5 L1698.0,168.9 L1700.0,169.3 L1702.0,170.0 L1704.0,170.7 L1706.0,171.3 L1708.0,172.2 L1710.0,172.8 L1712.0,173.3 L1714.0,174.4 L1716.0,175.4 L1718.0,175.3 L1720.0,175.1 L1722.0,176.0 L1724.0,176.8 L1726.0,177.3 L1728.0,177.9 L1730.0,178.4 L1732.0,179.4 L1734.0,180.0 L1736.0,180.5 L1738.0,181.5 L1740.0,182.2 L1742.0,182.4 L1744.0,182.9 L1746.0,184.4 L1748.0,186.0 L1750.0,186.8 L1752.0,187.6 L1754.0,189.4 L1756.0,191.2 L1758.0,192.1 L1760.0,192.7 L1762.0,193.6 L1764.0,195.1 L1766.0,196.8 L1768.0,198.6 L1770.0,199.8 L1772.0,200.5 L1774.0,201.4 L1776.0,202.7 L1778.0,204.4 L1780.0,206.1 L1782.0,207.4 L1784.0,209.3 L1786.0,211.3 L1788.0,213.3 L1790.0,216.0 L1792.0,218.5 L1794.0,220.6 L1796.0,223.0 L1796.7,224.2 L1798.0,225.5 L1800.0,227.3 L1802.0,229.2 L1804.0,231.1 L1806.0,232.9 L1808.0,234.8 L1810.0,236.7 L1812.0,238.5 L1814.0,240.4 L1816.0,242.3 L1818.0,244.2 L1820.0,246.0 L1822.0,247.9 L1824.0,249.8 L1826.0,251.6 L1828.0,253.5 L1830.0,255.4 L1832.0,257.2 L1834.0,259.1 L1836.0,261.0 L1838.0,262.8 L1840.0,264.7 L1842.0,266.6 L1844.0,268.4 L1846.0,270.3 L1848.0,272.2 L1850.0,274.1 L1852.0,275.9 L1854.0,277.8 L1856.0,279.7 L1858.0,281.5 L1860.0,283.4 L1862.0,285.3 L1864.0,287.1 L1866.0,289.0 L1868.0,290.9 L1870.0,292.7 L1872.0,294.6 L1874.0,296.5 L1876.0,298.3 L1878.0,300.2 L1880.0,302.1 L1882.0,304.0 L1884.0,305.8 L1886.0,307.7 L1888.0,309.6 L1890.0,311.4 L1892.0,313.3 L1894.0,315.2 L1896.0,317.0 L1898.0,318.9 L1900.0,320.8 L1902.0,322.6 L1904.0,324.5 L1906.0,326.4 L1908.0,328.3 L1909.6,329.7" fill="none" stroke="#ff00ff" stroke-width="1.9" stroke-linejoin="round" stroke-linecap="round"/>
<polygon points="216.1,1004.9 226.2,987.2 206.0,987.2" fill="#ff00ff"/>
<polygon points="329.0,612.0 339.1,594.3 318.9,594.3" fill="#ff00ff"/>
<polygon points="441.9,351.2 452.0,333.5 431.8,333.5" fill="#ff00ff"/>
<polygon points="554.8,262.3 564.9,244.6 544.7,244.6" fill="#ff00ff"/>
<polygon points="667.7,215.4 677.8,197.7 657.6,197.7" fill="#ff00ff"/>
<polygon points="780.6,190.9 790.7,173.2 770.5,173.2" fill="#ff00ff"/>
<polygon points="893.5,172.3 903.6,154.6 883.4,154.6" fill="#ff00ff"/>
<polygon points="1006.4,163.3 1016.5,145.6 996.3,145.6" fill="#ff00ff"/>
<polygon points="1119.3,157.3 1129.4,139.6 1109.2,139.6" fill="#ff00ff"/>
<polygon points="1232.2,152.3 1242.3,134.6 1222.1,134.6" fill="#ff00ff"/>
<polygon points="1345.1,152.3 1355.2,134.6 1335.0,134.6" fill="#ff00ff"/>
<polygon points="1458.0,155.8 1468.1,138.1 1447.9,138.1" fill="#ff00ff"/>
<polygon points="1570.9,161.5 1581.0,143.8 1560.8,143.8" fill="#ff00ff"/>
<polygon points="1683.8,177.4 1693.9,159.7 1673.7,159.7" fill="#ff00ff"/>
<polygon points="1796.7,236.8 1806.8,219.1 1786.6,219.1" fill="#ff00ff"/>
<polygon points="1909.6,342.3 1919.7,324.6 1899.5,324.6" fill="#ff00ff"/>
<path d="M216.1,1016.3 L218.1,1009.7 L220.1,1003.2 L222.1,996.6 L224.1,990.0 L226.1,983.4 L228.1,976.8 L230.1,970.2 L232.1,963.6 L234.1,957.0 L236.1,950.4 L238.1,943.8 L240.1,937.1 L242.1,930.5 L244.1,923.8 L246.1,917.2 L248.1,910.5 L250.1,903.8 L252.1,897.1 L254.1,890.4 L256.1,883.7 L258.1,877.0 L260.1,870.2 L262.1,863.5 L264.1,856.7 L266.1,850.0 L268.1,843.2 L270.1,836.5 L272.1,829.7 L274.1,822.9 L276.1,816.2 L278.1,809.4 L280.1,802.6 L282.1,795.9 L284.1,789.1 L286.1,782.4 L288.1,775.6 L290.1,768.9 L292.1,762.2 L294.1,755.5 L296.1,748.7 L298.1,742.0 L300.1,735.4 L302.1,728.7 L304.1,722.0 L306.1,715.4 L308.1,708.8 L310.1,702.1 L312.1,695.6 L314.1,689.0 L316.1,682.5 L318.1,676.0 L320.1,669.5 L322.1,663.0 L324.1,656.5 L326.1,650.0 L328.1,643.5 L329.0,640.5 L330.1,637.9 L332.1,630.8 L334.1,623.6 L336.1,616.3 L338.1,608.8 L340.1,601.9 L342.1,595.2 L344.1,588.1 L346.1,581.3 L348.1,575.0 L350.1,568.9 L352.1,563.0 L354.1,557.7 L356.1,552.8 L358.1,547.6 L360.1,542.7 L362.1,538.0 L364.1,533.0 L366.1,528.1 L368.1,524.1 L370.1,520.3 L372.1,515.9 L374.1,511.4 L376.1,507.5 L378.1,503.8 L380.1,499.7 L382.1,495.9 L384.1,492.6 L386.1,488.9 L388.1,485.4 L390.1,482.1 L392.1,478.8 L394.1,475.9 L396.1,473.1 L398.1,469.7 L400.1,466.3 L402.1,463.5 L404.1,461.4 L406.1,459.3 L408.1,457.0 L410.1,454.4 L412.1,451.9 L414.1,449.6 L416.1,447.5 L418.1,445.5 L420.1,443.2 L422.1,441.3 L424.1,439.4 L426.1,436.4 L428.1,433.3 L430.1,431.2 L432.1,428.4 L434.1,425.7 L436.1,423.6 L438.1,421.3 L440.1,418.8 L441.9,416.8 L442.1,416.7 L444.1,415.2 L446.1,413.8 L448.1,411.9 L450.1,410.4 L452.1,408.8 L454.1,406.5 L456.1,404.4 L458.1,402.3 L460.1,399.8 L462.1,397.8 L464.1,396.4 L466.1,394.8 L468.1,393.0 L470.1,391.6 L472.1,390.3 L474.1,388.9 L476.1,387.5 L478.1,386.1 L480.1,384.9 L482.1,383.8 L484.1,382.3 L486.1,380.7 L488.1,379.4 L490.1,377.8 L492.1,376.8 L494.1,376.1 L496.1,375.3 L498.1,374.1 L500.1,372.3 L502.1,370.9 L504.1,370.5 L506.1,369.1 L508.1,367.4 L510.1,366.3 L512.0,364.7 L514.0,362.8 L516.0,361.8 L518.0,361.2 L520.0,360.5 L522.0,359.2 L524.0,358.0 L526.0,357.2 L528.0,356.2 L530.0,355.4 L532.0,355.0 L534.0,354.7 L536.0,353.7 L538.0,352.3 L540.0,351.5 L542.0,351.1 L544.0,350.4 L546.0,349.6 L548.0,349.3 L550.0,349.7 L552.0,349.0 L554.0,347.9 L554.8,348.1 L556.0,347.5 L558.0,345.8 L560.0,345.1 L562.0,344.8 L564.0,344.2 L566.0,343.2 L568.0,342.2 L570.0,341.7 L572.0,341.5 L574.0,340.6 L576.0,338.8 L578.0,337.9 L580.0,337.7 L582.0,336.3 L584.0,335.1 L586.0,334.7 L588.0,334.3 L590.0,333.7 L592.0,332.6 L594.0,331.5 L596.0,331.0 L598.0,330.7 L600.0,330.2 L602.0,328.9 L604.0,327.4 L606.0,327.0 L608.0,326.9 L610.0,325.7 L612.0,324.4 L614.0,324.1 L616.0,324.2 L618.0,323.7 L620.0,322.8 L622.0,322.5 L624.0,322.0 L626.0,321.0 L628.0,320.7 L630.0,320.8 L632.0,320.4 L634.0,319.4 L636.0,318.6 L638.0,318.0 L640.0,317.1 L642.0,316.1 L644.0,315.3 L646.0,314.7 L648.0,314.6 L650.0,314.3 L652.0,313.3 L654.0,312.5 L656.0,311.8 L658.0,310.8 L660.0,309.7 L662.0,308.4 L664.0,308.1 L666.0,307.6 L667.7,306.4 L668.0,306.6 L670.0,306.8 L672.0,306.1 L674.0,305.2 L676.0,304.7 L678.0,304.5 L680.0,304.4 L682.0,303.9 L684.0,303.1 L686.0,302.5 L688.0,302.4 L690.0,302.4 L692.0,301.9 L694.0,301.2 L696.0,300.4 L698.0,299.5 L700.0,299.3 L702.0,299.4 L704.0,298.8 L706.0,297.9 L708.0,297.3 L710.0,297.4 L712.0,297.1 L714.0,296.6 L716.0,296.4 L718.0,296.2 L720.0,296.1 L722.0,295.9 L724.0,295.7 L726.0,295.4 L728.0,294.7 L730.0,293.9 L732.0,293.6 L734.0,293.3 L736.0,293.0 L738.0,292.9 L740.0,292.6 L742.0,291.5 L744.0,291.0 L746.0,291.3 L748.0,291.2 L750.0,290.6 L752.0,290.2 L754.0,290.4 L756.0,290.1 L758.0,289.3 L760.0,288.8 L762.0,288.6 L764.0,288.2 L766.0,287.7 L768.0,287.4 L770.0,287.6 L772.0,287.3 L774.0,286.8 L776.0,286.0 L778.0,285.4 L780.0,285.5 L780.6,285.6 L782.0,285.3 L784.0,285.0 L786.0,284.7 L788.0,284.5 L790.0,284.0 L792.0,283.4 L794.0,283.2 L796.0,283.4 L798.0,283.2 L800.0,282.4 L802.0,282.0 L804.0,282.1 L806.0,281.9 L808.0,281.9 L810.0,281.4 L812.0,280.7 L814.0,280.5 L816.0,280.7 L818.0,280.6 L820.0,280.2 L822.0,280.4 L824.0,280.3 L826.0,279.3 L828.0,278.3 L830.0,277.8 L832.0,277.6 L834.0,277.5 L836.0,277.3 L838.0,277.1 L840.0,276.9 L842.0,276.1 L844.0,276.3 L846.0,277.3 L848.0,277.2 L850.0,276.5 L852.0,276.4 L854.0,276.4 L856.0,275.9 L858.0,275.0 L860.0,274.4 L862.0,274.2 L864.0,274.0 L866.0,273.6 L868.0,273.5 L870.0,273.4 L872.0,273.4 L874.0,273.1 L876.0,272.5 L878.0,272.6 L880.0,273.0 L882.0,272.7 L884.0,272.5 L886.0,272.5 L888.0,272.2 L890.0,271.4 L892.0,270.5 L893.5,270.3 L894.0,270.2 L896.0,269.7 L898.0,269.5 L900.0,269.1 L902.0,268.9 L904.0,269.1 L906.0,269.0 L908.0,268.4 L910.0,268.1 L912.0,267.9 L914.0,267.8 L916.0,267.6 L918.0,267.4 L920.0,267.2 L922.0,267.2 L924.0,267.1 L926.0,266.7 L928.0,266.1 L930.0,265.8 L932.0,265.8 L934.0,265.6 L936.0,264.8 L938.0,263.7 L940.0,263.5 L942.0,264.3 L944.0,264.7 L946.0,264.7 L948.0,264.4 L950.0,263.8 L952.0,263.1 L954.0,262.8 L956.0,262.8 L958.0,262.7 L960.0,262.5 L962.0,262.3 L964.0,262.2 L966.0,261.9 L968.0,261.4 L970.0,260.8 L972.0,260.5 L974.0,260.8 L976.0,261.0 L978.0,260.7 L980.0,260.6 L982.0,260.5 L984.0,260.2 L986.0,259.7 L988.0,259.1 L990.0,259.2 L992.0,259.3 L994.0,258.6 L996.0,258.1 L998.0,258.0 L1000.0,257.8 L1002.0,257.8 L1004.0,257.9 L1006.0,257.3 L1006.4,257.1 L1008.0,257.8 L1010.0,257.8 L1012.0,257.3 L1014.0,256.9 L1016.0,256.4 L1018.0,256.3 L1020.0,256.5 L1022.0,256.5 L1024.0,256.2 L1026.0,255.6 L1028.0,255.1 L1030.0,255.1 L1032.0,255.5 L1034.0,255.3 L1036.0,254.5 L1038.0,254.3 L1040.0,254.5 L1042.0,254.5 L1044.0,253.8 L1046.0,253.1 L1048.0,252.8 L1050.0,252.9 L1052.0,252.6 L1054.0,252.4 L1056.0,252.7 L1058.0,252.7 L1060.0,252.1 L1062.0,251.6 L1064.0,251.8 L1066.0,251.8 L1068.0,251.2 L1070.0,251.2 L1072.0,251.3 L1074.0,250.9 L1076.0,250.9 L1078.0,250.8 L1080.0,250.9 L1082.0,250.8 L1084.0,250.7 L1086.0,250.9 L1088.0,250.8 L1090.0,250.2 L1092.0,249.4 L1094.0,249.3 L1096.0,249.8 L1098.0,249.8 L1100.0,249.5 L1102.0,249.2 L1104.0,248.9 L1106.0,248.7 L1108.0,248.6 L1110.0,248.7 L1112.0,248.6 L1114.0,248.5 L1116.0,249.0 L1118.0,249.2 L1119.3,248.6 L1120.0,248.5 L1122.0,248.9 L1124.0,249.0 L1126.0,249.2 L1128.0,249.0 L1130.0,248.7 L1132.0,249.0 L1134.0,249.3 L1136.0,249.2 L1138.0,248.9 L1140.0,248.4 L1142.0,247.8 L1144.0,248.2 L1146.0,249.0 L1148.0,249.1 L1150.0,248.9 L1152.0,248.6 L1154.0,248.4 L1156.0,248.2 L1158.0,248.2 L1160.0,248.2 L1162.0,248.1 L1164.0,248.2 L1166.0,248.4 L1168.0,248.4 L1170.0,248.5 L1172.0,248.6 L1174.0,248.7 L1176.0,248.5 L1178.0,247.7 L1180.0,247.5 L1182.0,248.3 L1184.0,249.0 L1186.0,249.2 L1188.0,249.0 L1190.0,248.5 L1192.0,248.2 L1194.0,248.4 L1196.0,248.3 L1198.0,247.8 L1200.0,247.6 L1202.0,248.0 L1204.0,247.7 L1206.0,247.2 L1208.0,247.7 L1210.0,248.2 L1212.0,248.1 L1214.0,248.3 L1216.0,248.1 L1218.0,247.9 L1220.0,248.0 L1222.0,247.9 L1224.0,247.8 L1226.0,248.3 L1228.0,248.4 L1230.0,247.6 L1232.0,247.0 L1232.2,247.6 L1234.0,248.5 L1236.0,248.4 L1238.0,247.9 L1240.0,247.7 L1242.0,247.3 L1244.0,247.3 L1246.0,247.9 L1248.0,248.0 L1250.0,247.4 L1252.0,247.4 L1254.0,247.8 L1256.0,248.2 L1258.0,248.6 L1260.0,249.0 L1262.0,249.3 L1264.0,249.3 L1266.0,248.9 L1268.0,248.2 L1270.0,248.3 L1272.0,248.9 L1274.0,248.9 L1276.0,248.4 L1278.0,247.7 L1280.0,247.9 L1282.0,248.8 L1284.0,249.0 L1286.0,248.8 L1288.0,248.4 L1290.0,248.4 L1292.0,249.0 L1294.0,249.8 L1296.0,249.9 L1298.0,249.4 L1300.0,248.9 L1302.0,249.0 L1304.0,249.8 L1306.0,250.0 L1308.0,249.5 L1310.0,249.4 L1312.0,249.4 L1314.0,248.9 L1316.0,248.5 L1318.0,249.1 L1320.0,249.5 L1322.0,249.1 L1324.0,248.5 L1326.0,248.6 L1328.0,249.7 L1330.0,250.1 L1332.0,249.8 L1334.0,249.6 L1336.0,249.5 L1338.0,249.6 L1340.0,249.6 L1342.0,249.6 L1344.0,249.8 L1345.1,250.1 L1346.0,250.1 L1348.0,249.6 L1350.0,249.5 L1352.0,249.4 L1354.0,248.9 L1356.0,248.9 L1358.0,249.4 L1360.0,249.4 L1362.0,249.4 L1364.0,249.6 L1366.0,249.5 L1368.0,249.5 L1370.0,249.8 L1372.0,250.2 L1374.0,250.1 L1376.0,249.7 L1378.0,249.8 L1380.0,249.8 L1382.0,249.7 L1384.0,249.7 L1386.0,249.7 L1388.0,249.4 L1390.0,249.7 L1392.0,250.0 L1394.0,250.1 L1396.0,250.1 L1398.0,249.7 L1400.0,249.4 L1402.0,249.3 L1404.0,249.0 L1406.0,248.9 L1408.0,249.1 L1410.0,249.2 L1412.0,249.3 L1414.0,249.9 L1416.0,249.9 L1418.0,249.3 L1420.0,249.5 L1422.0,249.7 L1424.0,250.0 L1426.0,250.5 L1428.0,250.3 L1430.0,249.7 L1432.0,249.1 L1434.0,248.8 L1436.0,249.1 L1438.0,249.2 L1440.0,249.3 L1442.0,249.6 L1444.0,250.0 L1446.0,250.4 L1448.0,250.2 L1450.0,249.9 L1452.0,249.5 L1454.0,249.6 L1456.0,249.4 L1458.0,249.3 L1458.0,249.6 L1460.0,249.2 L1462.0,249.0 L1464.0,250.0 L1466.0,250.2 L1468.0,249.4 L1470.0,249.6 L1472.0,250.4 L1474.0,249.7 L1476.0,248.7 L1478.0,249.3 L1480.0,250.2 L1482.0,250.3 L1484.0,250.2 L1486.0,250.3 L1488.0,250.1 L1490.0,249.5 L1492.0,249.3 L1494.0,249.5 L1496.0,249.6 L1498.0,250.1 L1500.0,250.7 L1502.0,250.6 L1504.0,250.3 L1506.0,250.4 L1508.0,250.8 L1510.0,250.6 L1512.0,250.2 L1514.0,250.7 L1516.0,251.4 L1518.0,251.2 L1520.0,250.6 L1522.0,250.2 L1524.0,250.0 L1526.0,250.7 L1528.0,251.6 L1530.0,251.4 L1532.0,251.0 L1534.0,251.1 L1536.0,251.4 L1538.0,251.6 L1540.0,251.5 L1542.0,251.7 L1544.0,252.4 L1546.0,252.7 L1548.0,252.2 L1550.0,252.3 L1552.0,252.5 L1554.0,252.2 L1556.0,252.2 L1558.0,252.6 L1560.0,252.9 L1562.0,252.8 L1564.0,252.9 L1566.0,253.0 L1568.0,252.8 L1570.0,252.4 L1570.9,252.7 L1572.0,253.3 L1574.0,253.4 L1576.0,253.9 L1578.0,254.5 L1580.0,254.6 L1582.0,254.4 L1584.0,254.4 L1586.0,254.6 L1588.0,254.5 L1590.0,254.8 L1592.0,255.3 L1594.0,255.7 L1596.0,256.3 L1598.0,256.3 L1600.0,256.1 L1602.0,256.7 L1604.0,256.9 L1606.0,256.4 L1608.0,256.3 L1610.0,256.8 L1612.0,257.6 L1614.0,258.1 L1616.0,258.1 L1618.0,258.1 L1620.0,258.6 L1622.0,259.6 L1624.0,260.0 L1626.0,259.7 L1628.0,259.7 L1630.0,260.4 L1632.0,260.9 L1634.0,261.4 L1636.0,262.1 L1638.0,262.1 L1640.0,261.7 L1642.0,262.2 L1644.0,263.2 L1646.0,263.7 L1648.0,263.9 L1650.0,263.9 L1652.0,264.1 L1654.0,265.1 L1656.0,265.9 L1658.0,265.9 L1660.0,265.8 L1662.0,266.2 L1664.0,266.9 L1666.0,267.7 L1668.0,268.7 L1670.0,269.4 L1672.0,269.3 L1674.0,269.4 L1676.0,269.9 L1678.0,270.4 L1680.0,270.8 L1682.0,271.4 L1683.8,271.8 L1684.0,271.7 L1686.0,272.5 L1688.0,273.1 L1690.0,273.7 L1692.0,274.8 L1694.0,276.0 L1696.0,277.3 L1698.0,278.2 L1700.0,278.7 L1702.0,279.5 L1704.0,280.7 L1706.0,282.1 L1708.0,283.1 L1710.0,284.0 L1712.0,284.7 L1714.0,286.2 L1716.0,287.8 L1718.0,288.7 L1720.0,289.7 L1722.0,290.7 L1724.0,291.2 L1726.0,292.0 L1728.0,293.6 L1730.0,295.1 L1732.0,295.9 L1734.0,296.7 L1736.0,297.9 L1738.0,298.8 L1740.0,299.1 L1742.0,299.6 L1744.0,301.0 L1746.0,302.4 L1748.0,303.6 L1750.0,304.7 L1752.0,306.1 L1754.0,307.7 L1756.0,308.9 L1758.0,310.3 L1760.0,311.8 L1762.0,312.8 L1764.0,314.2 L1766.0,315.9 L1768.0,317.0 L1770.0,318.7 L1772.0,321.3 L1774.0,323.5 L1776.0,325.5 L1778.0,327.7 L1780.0,329.8 L1782.0,331.8 L1784.0,334.1 L1786.0,336.6 L1788.0,339.6 L1790.0,342.4 L1792.0,345.1 L1794.0,348.4 L1796.0,351.2 L1796.7,351.0 L1798.0,352.6 L1800.0,354.9 L1802.0,357.2 L1804.0,359.5 L1806.0,361.8 L1808.0,364.1 L1810.0,366.4 L1812.0,368.7 L1814.0,371.0 L1816.0,373.3 L1818.0,375.6 L1820.0,377.9 L1822.0,380.2 L1824.0,382.5 L1826.0,384.8 L1828.0,387.1 L1830.0,389.4 L1832.0,391.7 L1834.0,394.0 L1836.0,396.3 L1838.0,398.7 L1840.0,401.0 L1842.0,403.3 L1844.0,405.6 L1846.0,407.9 L1848.0,410.2 L1850.0,412.5 L1852.0,414.8 L1854.0,417.1 L1856.0,419.4 L1858.0,421.7 L1860.0,424.0 L1862.0,426.3 L1864.0,428.6 L1866.0,430.9 L1868.0,433.2 L1870.0,435.5 L1872.0,437.8 L1874.0,440.1 L1876.0,442.4 L1878.0,444.7 L1880.0,447.0 L1882.0,449.4 L1884.0,451.7 L1886.0,454.0 L1888.0,456.3 L1890.0,458.6 L1892.0,460.9 L1894.0,463.2 L1896.0,465.5 L1898.0,467.8 L1900.0,470.1 L1902.0,472.4 L1904.0,474.7 L1906.0,477.0 L1908.0,479.3 L1909.6,481.1" fill="none" stroke="#008000" stroke-width="1.9" stroke-linejoin="round" stroke-linecap="round"/>
<polygon points="216.1,1005.3 227.1,1016.3 216.1,1027.3 205.1,1016.3" fill="#008000"/>
<polygon points="329.0,629.5 340.0,640.5 329.0,651.5 318.0,640.5" fill="#008000"/>
<polygon points="441.9,406.3 452.9,417.3 441.9,428.3 430.9,417.3" fill="#008000"/>
<polygon points="554.8,336.7 565.8,347.7 554.8,358.7 543.8,347.7" fill="#008000"/>
<polygon points="667.7,296.3 678.7,307.3 667.7,318.3 656.7,307.3" fill="#008000"/>
<polygon points="780.6,274.7 791.6,285.7 780.6,296.7 769.6,285.7" fill="#008000"/>
<polygon points="893.5,259.7 904.5,270.7 893.5,281.7 882.5,270.7" fill="#008000"/>
<polygon points="1006.4,246.4 1017.4,257.4 1006.4,268.4 995.4,257.4" fill="#008000"/>
<polygon points="1119.3,237.7 1130.3,248.7 1119.3,259.7 1108.3,248.7" fill="#008000"/>
<polygon points="1232.2,237.1 1243.2,248.1 1232.2,259.1 1221.2,248.1" fill="#008000"/>
<polygon points="1345.1,238.8 1356.1,249.8 1345.1,260.8 1334.1,249.8" fill="#008000"/>
<polygon points="1458.0,238.3 1469.0,249.3 1458.0,260.3 1447.0,249.3" fill="#008000"/>
<polygon points="1570.9,242.6 1581.9,253.6 1570.9,264.6 1559.9,253.6" fill="#008000"/>
<polygon points="1683.8,260.9 1694.8,271.9 1683.8,282.9 1672.8,271.9" fill="#008000"/>
<polygon points="1796.7,340.0 1807.7,351.0 1796.7,362.0 1785.7,351.0" fill="#008000"/>
<polygon points="1909.6,470.1 1920.6,481.1 1909.6,492.1 1898.6,481.1" fill="#008000"/>
<path d="M216.1,1100.0 L218.1,1094.6 L220.1,1089.3 L222.1,1083.9 L224.1,1078.5 L226.1,1073.2 L228.1,1067.8 L230.1,1062.4 L232.1,1057.0 L234.1,1051.6 L236.1,1046.2 L238.1,1040.8 L240.1,1035.4 L242.1,1030.0 L244.1,1024.6 L246.1,1019.2 L248.1,1013.8 L250.1,1008.3 L252.1,1002.9 L254.1,997.5 L256.1,992.0 L258.1,986.6 L260.1,981.1 L262.1,975.7 L264.1,970.2 L266.1,964.8 L268.1,959.3 L270.1,953.9 L272.1,948.4 L274.1,942.9 L276.1,937.5 L278.1,932.0 L280.1,926.5 L282.1,921.0 L284.1,915.5 L286.1,910.0 L288.1,904.4 L290.1,898.9 L292.1,893.3 L294.1,887.7 L296.1,882.1 L298.1,876.5 L300.1,870.9 L302.1,865.3 L304.1,859.7 L306.1,854.1 L308.1,848.5 L310.1,842.9 L312.1,837.3 L314.1,831.8 L316.1,826.2 L318.1,820.7 L320.1,815.2 L322.1,809.8 L324.1,804.3 L326.1,798.9 L328.1,793.5 L329.0,791.1 L330.1,788.2 L332.1,783.0 L334.1,777.8 L336.1,772.3 L338.1,767.1 L340.1,761.7 L342.1,755.9 L344.1,750.4 L346.1,745.0 L348.1,740.1 L350.1,735.1 L352.1,729.6 L354.1,724.4 L356.1,719.7 L358.1,715.0 L360.1,710.2 L362.1,705.5 L364.1,701.0 L366.1,696.5 L368.1,692.4 L370.1,688.9 L372.1,685.2 L374.1,681.1 L376.1,677.9 L378.1,675.1 L380.1,671.7 L382.1,668.7 L384.1,666.4 L386.1,664.1 L388.1,661.6 L390.1,659.0 L392.1,656.7 L394.1,654.7 L396.1,652.1 L398.1,649.4 L400.1,647.2 L402.1,644.4 L404.1,641.8 L406.1,640.1 L408.1,638.7 L410.1,637.1 L412.1,635.6 L414.1,634.1 L416.1,632.3 L418.1,630.7 L420.1,628.8 L422.1,626.0 L424.1,623.6 L426.1,622.0 L428.1,619.7 L430.1,617.6 L432.1,616.4 L434.1,614.9 L436.1,613.4 L438.1,613.0 L440.1,612.4 L441.9,610.9 L442.1,610.2 L444.1,608.6 L446.1,607.1 L448.1,605.9 L450.1,604.7 L452.1,603.5 L454.1,602.4 L456.1,601.5 L458.1,600.5 L460.1,598.8 L462.1,596.6 L464.1,595.2 L466.1,594.5 L468.1,593.4 L470.1,592.3 L472.1,591.2 L474.1,590.1 L476.1,589.1 L478.1,587.9 L480.1,586.5 L482.1,585.5 L484.1,584.9 L486.1,584.0 L488.1,583.1 L490.1,582.2 L492.1,581.4 L494.1,580.4 L496.1,579.4 L498.1,578.5 L500.1,577.5 L502.1,576.8 L504.1,576.3 L506.1,575.6 L508.1,575.3 L510.1,575.1 L512.0,573.9 L514.0,573.3 L516.0,573.0 L518.0,571.9 L520.0,571.1 L522.0,570.4 L524.0,569.1 L526.0,567.9 L528.0,567.3 L530.0,567.4 L532.0,566.8 L534.0,565.9 L536.0,565.6 L538.0,565.6 L540.0,565.4 L542.0,564.8 L544.0,564.0 L546.0,563.6 L548.0,563.6 L550.0,564.0 L552.0,563.9 L554.0,562.8 L554.8,562.1 L556.0,561.9 L558.0,561.4 L560.0,561.0 L562.0,560.5 L564.0,559.7 L566.0,559.0 L568.0,558.8 L570.0,558.6 L572.0,558.2 L574.0,558.0 L576.0,557.3 L578.0,556.7 L580.0,556.1 L582.0,555.2 L584.0,555.1 L586.0,554.7 L588.0,553.5 L590.0,552.7 L592.0,552.5 L594.0,552.0 L596.0,551.0 L598.0,550.2 L600.0,549.6 L602.0,548.5 L604.0,547.4 L606.0,546.8 L608.0,546.1 L610.0,545.2 L612.0,544.8 L614.0,544.3 L616.0,543.7 L618.0,542.6 L620.0,541.8 L622.0,541.7 L624.0,542.0 L626.0,542.0 L628.0,541.6 L630.0,541.0 L632.0,540.3 L634.0,539.3 L636.0,538.3 L638.0,538.0 L640.0,537.6 L642.0,537.0 L644.0,536.7 L646.0,536.9 L648.0,536.3 L650.0,535.5 L652.0,535.5 L654.0,535.2 L656.0,534.6 L658.0,534.4 L660.0,533.8 L662.0,533.1 L664.0,533.2 L666.0,533.8 L667.7,533.9 L668.0,533.5 L670.0,532.8 L672.0,532.6 L674.0,532.8 L676.0,532.6 L678.0,531.9 L680.0,531.6 L682.0,531.9 L684.0,531.6 L686.0,530.9 L688.0,530.4 L690.0,530.5 L692.0,530.9 L694.0,530.5 L696.0,529.5 L698.0,529.2 L700.0,529.8 L702.0,529.9 L704.0,529.4 L706.0,528.5 L708.0,527.3 L710.0,527.0 L712.0,527.3 L714.0,527.2 L716.0,526.8 L718.0,526.3 L720.0,526.0 L722.0,526.0 L724.0,525.6 L726.0,525.3 L728.0,525.2 L730.0,525.1 L732.0,525.2 L734.0,524.6 L736.0,523.6 L738.0,523.1 L740.0,523.2 L742.0,523.0 L744.0,522.6 L746.0,522.6 L748.0,522.6 L750.0,522.0 L752.0,521.3 L754.0,520.8 L756.0,520.6 L758.0,520.8 L760.0,520.6 L762.0,519.6 L764.0,519.3 L766.0,519.3 L768.0,519.3 L770.0,519.4 L772.0,519.0 L774.0,518.3 L776.0,518.1 L778.0,518.3 L780.0,518.1 L780.6,517.9 L782.0,517.2 L784.0,516.1 L786.0,515.7 L788.0,516.0 L790.0,516.2 L792.0,516.1 L794.0,515.9 L796.0,515.8 L798.0,515.6 L800.0,515.5 L802.0,514.7 L804.0,513.9 L806.0,514.1 L808.0,514.3 L810.0,513.9 L812.0,514.1 L814.0,514.0 L816.0,513.2 L818.0,512.6 L820.0,512.2 L822.0,512.2 L824.0,511.7 L826.0,511.1 L828.0,511.1 L830.0,511.0 L832.0,510.8 L834.0,510.8 L836.0,510.4 L838.0,510.2 L840.0,510.7 L842.0,510.9 L844.0,509.9 L846.0,508.9 L848.0,508.7 L850.0,508.8 L852.0,508.6 L854.0,508.0 L856.0,507.2 L858.0,506.9 L860.0,507.2 L862.0,507.5 L864.0,506.8 L866.0,506.1 L868.0,506.6 L870.0,507.1 L872.0,506.3 L874.0,505.2 L876.0,505.4 L878.0,505.8 L880.0,505.5 L882.0,504.6 L884.0,503.9 L886.0,503.9 L888.0,504.1 L890.0,504.2 L892.0,504.0 L893.5,503.7 L894.0,503.5 L896.0,502.8 L898.0,502.5 L900.0,502.6 L902.0,502.6 L904.0,502.4 L906.0,502.4 L908.0,501.9 L910.0,501.2 L912.0,500.9 L914.0,500.4 L916.0,499.9 L918.0,500.0 L920.0,500.5 L922.0,500.2 L924.0,499.4 L926.0,499.7 L928.0,499.6 L930.0,499.0 L932.0,499.1 L934.0,499.3 L936.0,498.7 L938.0,498.3 L940.0,497.9 L942.0,497.0 L944.0,496.2 L946.0,496.1 L948.0,496.5 L950.0,496.5 L952.0,495.7 L954.0,495.2 L956.0,495.4 L958.0,495.4 L960.0,495.2 L962.0,494.9 L964.0,494.5 L966.0,494.3 L968.0,493.9 L970.0,493.3 L972.0,493.3 L974.0,494.2 L976.0,494.6 L978.0,493.5 L980.0,492.2 L982.0,492.3 L984.0,492.2 L986.0,491.4 L988.0,491.0 L990.0,490.9 L992.0,490.5 L994.0,490.5 L996.0,490.7 L998.0,490.3 L1000.0,490.2 L1002.0,490.2 L1004.0,489.2 L1006.0,488.6 L1006.4,489.5 L1008.0,489.9 L1010.0,489.2 L1012.0,488.4 L1014.0,487.7 L1016.0,487.7 L1018.0,488.3 L1020.0,488.2 L1022.0,487.5 L1024.0,486.6 L1026.0,485.9 L1028.0,485.6 L1030.0,485.6 L1032.0,485.7 L1034.0,485.3 L1036.0,485.0 L1038.0,485.2 L1040.0,485.0 L1042.0,484.6 L1044.0,484.3 L1046.0,483.6 L1048.0,482.8 L1050.0,482.8 L1052.0,482.8 L1054.0,482.5 L1056.0,482.3 L1058.0,482.2 L1060.0,482.2 L1062.0,481.8 L1064.0,481.4 L1066.0,481.2 L1068.0,480.9 L1070.0,480.8 L1072.0,480.7 L1074.0,480.2 L1076.0,479.4 L1078.0,478.9 L1080.0,478.8 L1082.0,478.5 L1084.0,477.9 L1086.0,477.6 L1088.0,477.5 L1090.0,477.3 L1092.0,477.4 L1094.0,477.7 L1096.0,477.7 L1098.0,477.2 L1100.0,476.5 L1102.0,476.1 L1104.0,476.4 L1106.0,477.0 L1108.0,476.7 L1110.0,475.9 L1112.0,476.0 L1114.0,476.0 L1116.0,475.2 L1118.0,475.0 L1119.3,475.4 L1120.0,475.1 L1122.0,474.7 L1124.0,475.0 L1126.0,475.0 L1128.0,474.3 L1130.0,473.6 L1132.0,473.7 L1134.0,474.1 L1136.0,474.0 L1138.0,473.6 L1140.0,473.4 L1142.0,473.4 L1144.0,473.1 L1146.0,472.9 L1148.0,472.5 L1150.0,472.2 L1152.0,472.2 L1154.0,471.6 L1156.0,471.3 L1158.0,471.2 L1160.0,470.6 L1162.0,470.3 L1164.0,470.7 L1166.0,470.7 L1168.0,470.7 L1170.0,471.1 L1172.0,471.3 L1174.0,471.0 L1176.0,471.0 L1178.0,470.5 L1180.0,469.4 L1182.0,468.5 L1184.0,468.6 L1186.0,469.4 L1188.0,469.4 L1190.0,469.1 L1192.0,469.2 L1194.0,469.2 L1196.0,468.5 L1198.0,467.9 L1200.0,467.9 L1202.0,468.3 L1204.0,468.6 L1206.0,468.5 L1208.0,468.0 L1210.0,467.9 L1212.0,468.0 L1214.0,468.1 L1216.0,468.5 L1218.0,468.4 L1220.0,467.7 L1222.0,467.3 L1224.0,467.2 L1226.0,467.2 L1228.0,467.3 L1230.0,467.3 L1232.0,467.1 L1232.2,466.8 L1234.0,466.9 L1236.0,467.7 L1238.0,468.4 L1240.0,468.1 L1242.0,467.7 L1244.0,467.5 L1246.0,467.6 L1248.0,467.9 L1250.0,467.3 L1252.0,466.6 L1254.0,466.6 L1256.0,466.8 L1258.0,466.7 L1260.0,466.5 L1262.0,466.4 L1264.0,466.5 L1266.0,466.6 L1268.0,466.9 L1270.0,467.0 L1272.0,466.2 L1274.0,466.0 L1276.0,466.8 L1278.0,467.1 L1280.0,466.9 L1282.0,467.0 L1284.0,467.1 L1286.0,467.1 L1288.0,467.2 L1290.0,467.1 L1292.0,466.9 L1294.0,466.9 L1296.0,467.1 L1298.0,467.0 L1300.0,467.3 L1302.0,467.5 L1304.0,467.4 L1306.0,467.2 L1308.0,466.9 L1310.0,466.9 L1312.0,467.0 L1314.0,467.0 L1316.0,467.2 L1318.0,467.2 L1320.0,466.7 L1322.0,466.4 L1324.0,466.4 L1326.0,466.2 L1328.0,466.6 L1330.0,467.0 L1332.0,466.9 L1334.0,466.8 L1336.0,467.0 L1338.0,467.1 L1340.0,467.0 L1342.0,466.1 L1344.0,465.3 L1345.1,465.9 L1346.0,466.6 L1348.0,466.4 L1350.0,466.3 L1352.0,466.5 L1354.0,466.2 L1356.0,466.2 L1358.0,466.5 L1360.0,466.3 L1362.0,466.3 L1364.0,466.1 L1366.0,465.8 L1368.0,465.8 L1370.0,465.9 L1372.0,466.1 L1374.0,466.4 L1376.0,466.2 L1378.0,465.7 L1380.0,465.5 L1382.0,466.0 L1384.0,466.4 L1386.0,466.3 L1388.0,466.3 L1390.0,466.2 L1392.0,465.7 L1394.0,465.6 L1396.0,465.7 L1398.0,465.5 L1400.0,465.6 L1402.0,465.7 L1404.0,465.9 L1406.0,465.8 L1408.0,465.9 L1410.0,466.0 L1412.0,465.6 L1414.0,465.6 L1416.0,465.7 L1418.0,466.0 L1420.0,466.1 L1422.0,466.0 L1424.0,465.8 L1426.0,465.7 L1428.0,465.8 L1430.0,465.7 L1432.0,465.7 L1434.0,465.5 L1436.0,465.0 L1438.0,465.0 L1440.0,465.5 L1442.0,465.9 L1444.0,465.6 L1446.0,465.0 L1448.0,465.4 L1450.0,466.0 L1452.0,465.9 L1454.0,465.9 L1456.0,465.7 L1458.0,465.7 L1458.0,465.7 L1460.0,464.9 L1462.0,464.7 L1464.0,465.4 L1466.0,465.7 L1468.0,465.7 L1470.0,465.8 L1472.0,465.8 L1474.0,465.7 L1476.0,465.8 L1478.0,465.7 L1480.0,465.3 L1482.0,465.5 L1484.0,465.7 L1486.0,465.8 L1488.0,466.0 L1490.0,466.1 L1492.0,466.4 L1494.0,466.3 L1496.0,465.5 L1498.0,465.4 L1500.0,466.0 L1502.0,466.2 L1504.0,466.6 L1506.0,466.8 L1508.0,466.5 L1510.0,466.5 L1512.0,466.3 L1514.0,466.2 L1516.0,466.6 L1518.0,466.9 L1520.0,467.0 L1522.0,467.1 L1524.0,467.1 L1526.0,466.8 L1528.0,466.2 L1530.0,466.4 L1532.0,466.9 L1534.0,467.1 L1536.0,466.9 L1538.0,467.0 L1540.0,466.8 L1542.0,466.6 L1544.0,467.1 L1546.0,467.6 L1548.0,467.6 L1550.0,467.9 L1552.0,468.0 L1554.0,467.8 L1556.0,467.7 L1558.0,467.8 L1560.0,468.1 L1562.0,467.9 L1564.0,467.7 L1566.0,468.0 L1568.0,468.6 L1570.0,469.0 L1570.9,468.7 L1572.0,468.4 L1574.0,468.3 L1576.0,468.1 L1578.0,468.1 L1580.0,468.7 L1582.0,469.5 L1584.0,469.6 L1586.0,469.3 L1588.0,469.4 L1590.0,469.8 L1592.0,469.9 L1594.0,470.1 L1596.0,470.4 L1598.0,470.3 L1600.0,470.1 L1602.0,470.0 L1604.0,470.2 L1606.0,470.4 L1608.0,471.0 L1610.0,471.5 L1612.0,472.1 L1614.0,472.1 L1616.0,471.5 L1618.0,471.8 L1620.0,472.4 L1622.0,472.8 L1624.0,473.1 L1626.0,473.1 L1628.0,473.1 L1630.0,473.3 L1632.0,473.6 L1634.0,473.8 L1636.0,474.4 L1638.0,474.7 L1640.0,474.8 L1642.0,475.0 L1644.0,475.5 L1646.0,476.0 L1648.0,476.6 L1650.0,476.9 L1652.0,476.8 L1654.0,477.1 L1656.0,477.8 L1658.0,478.1 L1660.0,478.0 L1662.0,478.4 L1664.0,478.6 L1666.0,478.6 L1668.0,479.0 L1670.0,479.7 L1672.0,480.2 L1674.0,480.5 L1676.0,481.0 L1678.0,481.4 L1680.0,481.5 L1682.0,481.4 L1683.8,481.8 L1684.0,482.1 L1686.0,482.2 L1688.0,482.5 L1690.0,483.6 L1692.0,484.5 L1694.0,484.9 L1696.0,485.3 L1698.0,485.9 L1700.0,486.6 L1702.0,487.6 L1704.0,488.2 L1706.0,488.5 L1708.0,489.5 L1710.0,490.4 L1712.0,491.0 L1714.0,492.0 L1716.0,493.2 L1718.0,494.2 L1720.0,494.7 L1722.0,495.1 L1724.0,495.7 L1726.0,496.4 L1728.0,497.7 L1730.0,499.2 L1732.0,500.0 L1734.0,500.9 L1736.0,502.4 L1738.0,503.6 L1740.0,504.0 L1742.0,504.6 L1744.0,505.7 L1746.0,506.4 L1748.0,507.0 L1750.0,508.7 L1752.0,510.1 L1754.0,510.5 L1756.0,511.2 L1758.0,512.7 L1760.0,513.7 L1762.0,514.2 L1764.0,515.3 L1766.0,516.9 L1768.0,518.4 L1770.0,519.6 L1772.0,520.6 L1774.0,522.3 L1776.0,524.3 L1778.0,525.7 L1780.0,527.1 L1782.0,528.7 L1784.0,530.3 L1786.0,532.6 L1788.0,535.4 L1790.0,537.7 L1792.0,539.6 L1794.0,541.3 L1796.0,542.7 L1796.7,543.8 L1798.0,545.0 L1800.0,546.7 L1802.0,548.5 L1804.0,550.2 L1806.0,552.0 L1808.0,553.7 L1810.0,555.5 L1812.0,557.2 L1814.0,559.0 L1816.0,560.8 L1818.0,562.5 L1820.0,564.3 L1822.0,566.0 L1824.0,567.8 L1826.0,569.5 L1828.0,571.3 L1830.0,573.0 L1832.0,574.8 L1834.0,576.5 L1836.0,578.3 L1838.0,580.0 L1840.0,581.8 L1842.0,583.5 L1844.0,585.3 L1846.0,587.0 L1848.0,588.8 L1850.0,590.5 L1852.0,592.3 L1854.0,594.0 L1856.0,595.8 L1858.0,597.5 L1860.0,599.3 L1862.0,601.0 L1864.0,602.8 L1866.0,604.6 L1868.0,606.3 L1870.0,608.1 L1872.0,609.8 L1874.0,611.6 L1876.0,613.3 L1878.0,615.1 L1880.0,616.8 L1882.0,618.6 L1884.0,620.3 L1886.0,622.1 L1888.0,623.8 L1890.0,625.6 L1892.0,627.3 L1894.0,629.1 L1896.0,630.8 L1898.0,632.6 L1900.0,634.3 L1902.0,636.1 L1904.0,637.8 L1906.0,639.6 L1908.0,641.3 L1909.6,642.7" fill="none" stroke="#000080" stroke-width="1.9" stroke-linejoin="round" stroke-linecap="round"/>
<polygon points="204.4,1100.0 222.4,1089.9 222.4,1110.1" fill="#000080"/>
<polygon points="317.3,791.1 335.3,781.0 335.3,801.2" fill="#000080"/>
<polygon points="430.2,610.3 448.2,600.2 448.2,620.4" fill="#000080"/>
<polygon points="543.1,561.9 561.1,551.8 561.1,572.0" fill="#000080"/>
<polygon points="656.0,533.6 674.0,523.5 674.0,543.7" fill="#000080"/>
<polygon points="768.9,517.6 786.9,507.5 786.9,527.7" fill="#000080"/>
<polygon points="881.8,503.5 899.8,493.4 899.8,513.6" fill="#000080"/>
<polygon points="994.7,489.2 1012.7,479.1 1012.7,499.3" fill="#000080"/>
<polygon points="1107.6,474.9 1125.6,464.8 1125.6,485.0" fill="#000080"/>
<polygon points="1220.5,467.5 1238.5,457.4 1238.5,477.6" fill="#000080"/>
<polygon points="1333.4,466.5 1351.4,456.4 1351.4,476.6" fill="#000080"/>
<polygon points="1446.3,465.6 1464.3,455.5 1464.3,475.7" fill="#000080"/>
<polygon points="1559.2,468.4 1577.2,458.3 1577.2,478.5" fill="#000080"/>
<polygon points="1672.1,482.3 1690.1,472.2 1690.1,492.4" fill="#000080"/>
<polygon points="1785.0,543.8 1803.0,533.7 1803.0,553.9" fill="#000080"/>
<polygon points="1897.9,642.7 1915.9,632.6 1915.9,652.8" fill="#000080"/>
</g>
<line x1="995.5" y1="918.0" x2="1116" y2="918.0" stroke="#000000" stroke-width="1.9" stroke-linecap="round"/>
<rect x="1047.9" y="910.3" width="15.4" height="15.4" fill="#000000"/>
<text class="leg" transform="translate(1129.93,936.00) scale(0.9512,1)" >Null</text>
<line x1="995.5" y1="983.2" x2="1116" y2="983.2" stroke="#ff0000" stroke-width="1.9" stroke-linecap="round"/>
<circle cx="1055.6" cy="983.2" r="8.4" fill="#ff0000"/>
<text class="leg" transform="translate(1130.12,1001.20) scale(0.9388,1)" >T=500 nm ICP-20 min PLA-0</text>
<line x1="995.5" y1="1048.3" x2="1116" y2="1048.3" stroke="#0000ff" stroke-width="1.9" stroke-linecap="round"/>
<polygon points="1055.6,1037.3 1065.7,1054.8 1045.5,1054.8" fill="#0000ff"/>
<text class="leg" transform="translate(1130.12,1066.30) scale(0.9384,1)" >T=500 nm ICP-20 min PLA-50</text>
<line x1="995.5" y1="1113.5" x2="1116" y2="1113.5" stroke="#ff00ff" stroke-width="1.9" stroke-linecap="round"/>
<polygon points="1055.6,1126.1 1065.7,1108.4 1045.5,1108.4" fill="#ff00ff"/>
<text class="leg" transform="translate(1130.12,1131.50) scale(0.9394,1)" >T=500 nm ICP-20 min PLA-100</text>
<rect x="1780.92" y="1124.04" width="10.90" height="8.96" fill="#fff" stroke="none"/>
<rect x="1799.49" y="1124.04" width="10.24" height="8.96" fill="#fff" stroke="none"/>
<line x1="995.5" y1="1179.0" x2="1116" y2="1179.0" stroke="#008000" stroke-width="1.9" stroke-linecap="round"/>
<polygon points="1055.6,1168.0 1066.6,1179.0 1055.6,1190.0 1044.6,1179.0" fill="#008000"/>
<text class="leg" transform="translate(1130.12,1197.00) scale(0.9394,1)" >T=500 nm ICP-20 min PLA-150</text>
<rect x="1780.92" y="1189.54" width="10.90" height="8.96" fill="#fff" stroke="none"/>
<rect x="1799.49" y="1189.54" width="10.24" height="8.96" fill="#fff" stroke="none"/>
<line x1="995.5" y1="1244.3" x2="1116" y2="1244.3" stroke="#000080" stroke-width="1.9" stroke-linecap="round"/>
<polygon points="1043.9,1244.3 1061.9,1234.2 1061.9,1254.4" fill="#000080"/>
<text class="leg" transform="translate(1130.12,1262.30) scale(0.9394,1)" >T=500 nm ICP-20 min PLA-200</text>
</svg>
</body>
</html>
